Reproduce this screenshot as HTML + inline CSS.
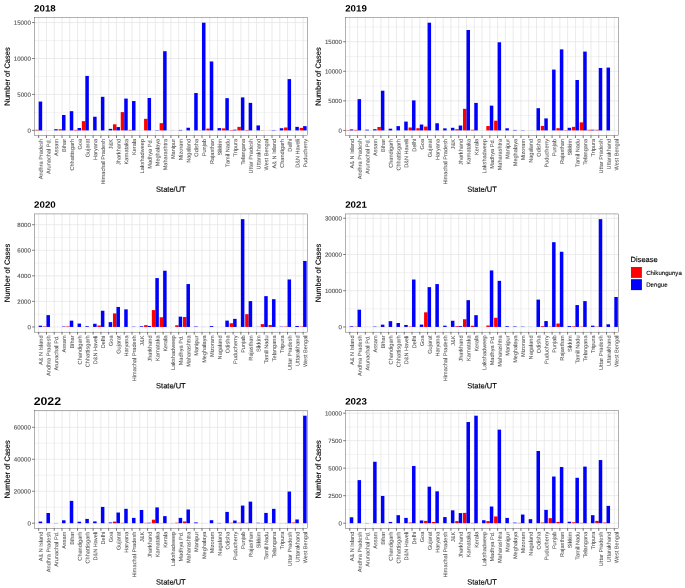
<!DOCTYPE html>
<html lang="en">
<head>
<meta charset="utf-8">
<title>Dengue and Chikungunya cases by State/UT, 2018-2023</title>
<style>
html,body{margin:0;padding:0;background:#ffffff;}
body{width:685px;height:588px;overflow:hidden;}
svg{display:block;will-change:transform;}
svg text{font-family:"Liberation Sans", Arial, Helvetica, sans-serif;stroke-linejoin:round;}
svg text.tk{stroke:#4d4d4d;stroke-width:0.1px;}
svg text.xl{stroke:#4d4d4d;stroke-width:0.03px;}
svg text.ax{stroke:#000;stroke-width:0.15px;}
svg text.lg{stroke:#000;stroke-width:0.1px;}
</style>
</head>
<body>
<svg width="685" height="588" viewBox="0 0 685 588">
<rect x="0" y="0" width="685" height="588" fill="#ffffff"/>
<g>
<rect x="34.40" y="17.50" width="273.00" height="118.10" fill="#ffffff"/>
<line x1="34.40" x2="307.40" y1="112.43" y2="112.43" stroke="#e4e4e4" stroke-width="0.45"/>
<line x1="34.40" x2="307.40" y1="76.48" y2="76.48" stroke="#e4e4e4" stroke-width="0.45"/>
<line x1="34.40" x2="307.40" y1="40.53" y2="40.53" stroke="#e4e4e4" stroke-width="0.45"/>
<line x1="34.40" x2="307.40" y1="130.40" y2="130.40" stroke="#e4e4e4" stroke-width="0.75"/>
<line x1="34.40" x2="307.40" y1="94.45" y2="94.45" stroke="#e4e4e4" stroke-width="0.75"/>
<line x1="34.40" x2="307.40" y1="58.50" y2="58.50" stroke="#e4e4e4" stroke-width="0.75"/>
<line x1="34.40" x2="307.40" y1="22.56" y2="22.56" stroke="#e4e4e4" stroke-width="0.75"/>
<line x1="38.68" x2="38.68" y1="17.50" y2="135.60" stroke="#e4e4e4" stroke-width="0.75"/>
<line x1="46.46" x2="46.46" y1="17.50" y2="135.60" stroke="#e4e4e4" stroke-width="0.75"/>
<line x1="54.23" x2="54.23" y1="17.50" y2="135.60" stroke="#e4e4e4" stroke-width="0.75"/>
<line x1="62.01" x2="62.01" y1="17.50" y2="135.60" stroke="#e4e4e4" stroke-width="0.75"/>
<line x1="69.79" x2="69.79" y1="17.50" y2="135.60" stroke="#e4e4e4" stroke-width="0.75"/>
<line x1="77.57" x2="77.57" y1="17.50" y2="135.60" stroke="#e4e4e4" stroke-width="0.75"/>
<line x1="85.34" x2="85.34" y1="17.50" y2="135.60" stroke="#e4e4e4" stroke-width="0.75"/>
<line x1="93.12" x2="93.12" y1="17.50" y2="135.60" stroke="#e4e4e4" stroke-width="0.75"/>
<line x1="100.90" x2="100.90" y1="17.50" y2="135.60" stroke="#e4e4e4" stroke-width="0.75"/>
<line x1="108.68" x2="108.68" y1="17.50" y2="135.60" stroke="#e4e4e4" stroke-width="0.75"/>
<line x1="116.46" x2="116.46" y1="17.50" y2="135.60" stroke="#e4e4e4" stroke-width="0.75"/>
<line x1="124.23" x2="124.23" y1="17.50" y2="135.60" stroke="#e4e4e4" stroke-width="0.75"/>
<line x1="132.01" x2="132.01" y1="17.50" y2="135.60" stroke="#e4e4e4" stroke-width="0.75"/>
<line x1="139.79" x2="139.79" y1="17.50" y2="135.60" stroke="#e4e4e4" stroke-width="0.75"/>
<line x1="147.57" x2="147.57" y1="17.50" y2="135.60" stroke="#e4e4e4" stroke-width="0.75"/>
<line x1="155.34" x2="155.34" y1="17.50" y2="135.60" stroke="#e4e4e4" stroke-width="0.75"/>
<line x1="163.12" x2="163.12" y1="17.50" y2="135.60" stroke="#e4e4e4" stroke-width="0.75"/>
<line x1="170.90" x2="170.90" y1="17.50" y2="135.60" stroke="#e4e4e4" stroke-width="0.75"/>
<line x1="178.68" x2="178.68" y1="17.50" y2="135.60" stroke="#e4e4e4" stroke-width="0.75"/>
<line x1="186.46" x2="186.46" y1="17.50" y2="135.60" stroke="#e4e4e4" stroke-width="0.75"/>
<line x1="194.23" x2="194.23" y1="17.50" y2="135.60" stroke="#e4e4e4" stroke-width="0.75"/>
<line x1="202.01" x2="202.01" y1="17.50" y2="135.60" stroke="#e4e4e4" stroke-width="0.75"/>
<line x1="209.79" x2="209.79" y1="17.50" y2="135.60" stroke="#e4e4e4" stroke-width="0.75"/>
<line x1="217.57" x2="217.57" y1="17.50" y2="135.60" stroke="#e4e4e4" stroke-width="0.75"/>
<line x1="225.34" x2="225.34" y1="17.50" y2="135.60" stroke="#e4e4e4" stroke-width="0.75"/>
<line x1="233.12" x2="233.12" y1="17.50" y2="135.60" stroke="#e4e4e4" stroke-width="0.75"/>
<line x1="240.90" x2="240.90" y1="17.50" y2="135.60" stroke="#e4e4e4" stroke-width="0.75"/>
<line x1="248.68" x2="248.68" y1="17.50" y2="135.60" stroke="#e4e4e4" stroke-width="0.75"/>
<line x1="256.46" x2="256.46" y1="17.50" y2="135.60" stroke="#e4e4e4" stroke-width="0.75"/>
<line x1="264.23" x2="264.23" y1="17.50" y2="135.60" stroke="#e4e4e4" stroke-width="0.75"/>
<line x1="272.01" x2="272.01" y1="17.50" y2="135.60" stroke="#e4e4e4" stroke-width="0.75"/>
<line x1="279.79" x2="279.79" y1="17.50" y2="135.60" stroke="#e4e4e4" stroke-width="0.75"/>
<line x1="287.57" x2="287.57" y1="17.50" y2="135.60" stroke="#e4e4e4" stroke-width="0.75"/>
<line x1="295.34" x2="295.34" y1="17.50" y2="135.60" stroke="#e4e4e4" stroke-width="0.75"/>
<line x1="303.12" x2="303.12" y1="17.50" y2="135.60" stroke="#e4e4e4" stroke-width="0.75"/>
<rect x="35.18" y="129.83" width="3.50" height="0.57" fill="#ff0000"/>
<rect x="38.68" y="101.56" width="3.50" height="28.84" fill="#0000ff"/>
<rect x="42.96" y="130.40" width="3.50" height="0.00" fill="#ff0000"/>
<rect x="46.46" y="130.39" width="3.50" height="0.01" fill="#0000ff"/>
<rect x="50.73" y="130.40" width="3.50" height="0.00" fill="#ff0000"/>
<rect x="54.23" y="129.21" width="3.50" height="1.19" fill="#0000ff"/>
<rect x="58.51" y="129.28" width="3.50" height="1.12" fill="#ff0000"/>
<rect x="62.01" y="115.00" width="3.50" height="15.40" fill="#0000ff"/>
<rect x="66.29" y="130.40" width="3.50" height="0.00" fill="#ff0000"/>
<rect x="69.79" y="111.18" width="3.50" height="19.22" fill="#0000ff"/>
<rect x="74.07" y="129.85" width="3.50" height="0.55" fill="#ff0000"/>
<rect x="77.57" y="127.99" width="3.50" height="2.41" fill="#0000ff"/>
<rect x="81.84" y="121.13" width="3.50" height="9.27" fill="#ff0000"/>
<rect x="85.34" y="75.91" width="3.50" height="54.49" fill="#0000ff"/>
<rect x="89.62" y="130.39" width="3.50" height="0.01" fill="#ff0000"/>
<rect x="93.12" y="116.75" width="3.50" height="13.65" fill="#0000ff"/>
<rect x="97.40" y="130.40" width="3.50" height="0.00" fill="#ff0000"/>
<rect x="100.90" y="96.81" width="3.50" height="33.59" fill="#0000ff"/>
<rect x="105.18" y="130.40" width="3.50" height="0.00" fill="#ff0000"/>
<rect x="108.68" y="128.86" width="3.50" height="1.54" fill="#0000ff"/>
<rect x="112.96" y="124.28" width="3.50" height="6.12" fill="#ff0000"/>
<rect x="116.46" y="127.07" width="3.50" height="3.33" fill="#0000ff"/>
<rect x="120.73" y="112.10" width="3.50" height="18.30" fill="#ff0000"/>
<rect x="124.23" y="98.57" width="3.50" height="31.83" fill="#0000ff"/>
<rect x="128.51" y="129.85" width="3.50" height="0.55" fill="#ff0000"/>
<rect x="132.01" y="101.04" width="3.50" height="29.36" fill="#0000ff"/>
<rect x="136.29" y="130.40" width="3.50" height="0.00" fill="#ff0000"/>
<rect x="139.79" y="130.40" width="3.50" height="0.00" fill="#0000ff"/>
<rect x="144.07" y="118.83" width="3.50" height="11.57" fill="#ff0000"/>
<rect x="147.57" y="98.00" width="3.50" height="32.40" fill="#0000ff"/>
<rect x="151.84" y="130.40" width="3.50" height="0.00" fill="#ff0000"/>
<rect x="155.34" y="130.08" width="3.50" height="0.32" fill="#0000ff"/>
<rect x="159.62" y="123.15" width="3.50" height="7.25" fill="#ff0000"/>
<rect x="163.12" y="51.24" width="3.50" height="79.16" fill="#0000ff"/>
<rect x="167.40" y="130.40" width="3.50" height="0.00" fill="#ff0000"/>
<rect x="170.90" y="130.30" width="3.50" height="0.10" fill="#0000ff"/>
<rect x="175.18" y="130.40" width="3.50" height="0.00" fill="#ff0000"/>
<rect x="178.68" y="129.91" width="3.50" height="0.49" fill="#0000ff"/>
<rect x="182.96" y="130.40" width="3.50" height="0.00" fill="#ff0000"/>
<rect x="186.46" y="127.75" width="3.50" height="2.65" fill="#0000ff"/>
<rect x="190.73" y="130.40" width="3.50" height="0.00" fill="#ff0000"/>
<rect x="194.23" y="93.03" width="3.50" height="37.37" fill="#0000ff"/>
<rect x="198.51" y="130.28" width="3.50" height="0.12" fill="#ff0000"/>
<rect x="202.01" y="22.70" width="3.50" height="107.70" fill="#0000ff"/>
<rect x="206.29" y="128.57" width="3.50" height="1.83" fill="#ff0000"/>
<rect x="209.79" y="61.47" width="3.50" height="68.93" fill="#0000ff"/>
<rect x="214.07" y="130.40" width="3.50" height="0.00" fill="#ff0000"/>
<rect x="217.57" y="128.10" width="3.50" height="2.30" fill="#0000ff"/>
<rect x="221.84" y="128.36" width="3.50" height="2.04" fill="#ff0000"/>
<rect x="225.34" y="98.15" width="3.50" height="32.25" fill="#0000ff"/>
<rect x="229.62" y="129.99" width="3.50" height="0.41" fill="#ff0000"/>
<rect x="233.12" y="129.68" width="3.50" height="0.72" fill="#0000ff"/>
<rect x="237.40" y="126.88" width="3.50" height="3.52" fill="#ff0000"/>
<rect x="240.90" y="97.39" width="3.50" height="33.01" fill="#0000ff"/>
<rect x="245.18" y="129.98" width="3.50" height="0.42" fill="#ff0000"/>
<rect x="248.68" y="102.87" width="3.50" height="27.53" fill="#0000ff"/>
<rect x="252.96" y="130.40" width="3.50" height="0.00" fill="#ff0000"/>
<rect x="256.46" y="125.45" width="3.50" height="4.95" fill="#0000ff"/>
<rect x="260.73" y="130.23" width="3.50" height="0.17" fill="#ff0000"/>
<rect x="264.23" y="130.40" width="3.50" height="0.00" fill="#0000ff"/>
<rect x="268.51" y="130.28" width="3.50" height="0.12" fill="#ff0000"/>
<rect x="272.01" y="130.05" width="3.50" height="0.35" fill="#0000ff"/>
<rect x="276.29" y="130.40" width="3.50" height="0.00" fill="#ff0000"/>
<rect x="279.79" y="128.24" width="3.50" height="2.16" fill="#0000ff"/>
<rect x="284.07" y="127.47" width="3.50" height="2.93" fill="#ff0000"/>
<rect x="287.57" y="79.10" width="3.50" height="51.30" fill="#0000ff"/>
<rect x="291.84" y="130.40" width="3.50" height="0.00" fill="#ff0000"/>
<rect x="295.34" y="126.86" width="3.50" height="3.54" fill="#0000ff"/>
<rect x="299.62" y="127.88" width="3.50" height="2.52" fill="#ff0000"/>
<rect x="303.12" y="126.14" width="3.50" height="4.26" fill="#0000ff"/>
<rect x="34.40" y="17.50" width="273.00" height="118.10" fill="none" stroke="#333333" stroke-width="0.38"/>
<line x1="32.10" x2="34.40" y1="130.40" y2="130.40" stroke="#333333" stroke-width="0.65"/>
<text transform="translate(30.80,132.65) rotate(0.05)" font-size="6.1" fill="#4d4d4d" text-anchor="end" class="tk">0</text>
<line x1="32.10" x2="34.40" y1="94.45" y2="94.45" stroke="#333333" stroke-width="0.65"/>
<text transform="translate(30.80,96.70) rotate(0.05)" font-size="6.1" fill="#4d4d4d" text-anchor="end" class="tk">5000</text>
<line x1="32.10" x2="34.40" y1="58.50" y2="58.50" stroke="#333333" stroke-width="0.65"/>
<text transform="translate(30.80,60.75) rotate(0.05)" font-size="6.1" fill="#4d4d4d" text-anchor="end" class="tk">10000</text>
<line x1="32.10" x2="34.40" y1="22.56" y2="22.56" stroke="#333333" stroke-width="0.65"/>
<text transform="translate(30.80,24.81) rotate(0.05)" font-size="6.1" fill="#4d4d4d" text-anchor="end" class="tk">15000</text>
<line x1="38.68" x2="38.68" y1="135.60" y2="138.00" stroke="#333333" stroke-width="0.7"/>
<text transform="translate(42.78,138.90) rotate(-90.05)" font-size="5.6" fill="#4d4d4d" text-anchor="end" class="xl">Andhra Pradesh</text>
<line x1="46.46" x2="46.46" y1="135.60" y2="138.00" stroke="#333333" stroke-width="0.7"/>
<text transform="translate(50.56,138.90) rotate(-90.05)" font-size="5.6" fill="#4d4d4d" text-anchor="end" class="xl">Arunachal Pd.</text>
<line x1="54.23" x2="54.23" y1="135.60" y2="138.00" stroke="#333333" stroke-width="0.7"/>
<text transform="translate(58.33,138.90) rotate(-90.05)" font-size="5.6" fill="#4d4d4d" text-anchor="end" class="xl">Assam</text>
<line x1="62.01" x2="62.01" y1="135.60" y2="138.00" stroke="#333333" stroke-width="0.7"/>
<text transform="translate(66.11,138.90) rotate(-90.05)" font-size="5.6" fill="#4d4d4d" text-anchor="end" class="xl">Bihar</text>
<line x1="69.79" x2="69.79" y1="135.60" y2="138.00" stroke="#333333" stroke-width="0.7"/>
<text transform="translate(73.89,138.90) rotate(-90.05)" font-size="5.6" fill="#4d4d4d" text-anchor="end" class="xl">Chhattisgarh</text>
<line x1="77.57" x2="77.57" y1="135.60" y2="138.00" stroke="#333333" stroke-width="0.7"/>
<text transform="translate(81.67,138.90) rotate(-90.05)" font-size="5.6" fill="#4d4d4d" text-anchor="end" class="xl">Goa</text>
<line x1="85.34" x2="85.34" y1="135.60" y2="138.00" stroke="#333333" stroke-width="0.7"/>
<text transform="translate(89.44,138.90) rotate(-90.05)" font-size="5.6" fill="#4d4d4d" text-anchor="end" class="xl">Gujarat</text>
<line x1="93.12" x2="93.12" y1="135.60" y2="138.00" stroke="#333333" stroke-width="0.7"/>
<text transform="translate(97.22,138.90) rotate(-90.05)" font-size="5.6" fill="#4d4d4d" text-anchor="end" class="xl">Haryana</text>
<line x1="100.90" x2="100.90" y1="135.60" y2="138.00" stroke="#333333" stroke-width="0.7"/>
<text transform="translate(105.00,138.90) rotate(-90.05)" font-size="5.6" fill="#4d4d4d" text-anchor="end" class="xl">Himachal Pradesh</text>
<line x1="108.68" x2="108.68" y1="135.60" y2="138.00" stroke="#333333" stroke-width="0.7"/>
<text transform="translate(112.78,138.90) rotate(-90.05)" font-size="5.6" fill="#4d4d4d" text-anchor="end" class="xl">J&amp;K</text>
<line x1="116.46" x2="116.46" y1="135.60" y2="138.00" stroke="#333333" stroke-width="0.7"/>
<text transform="translate(120.56,138.90) rotate(-90.05)" font-size="5.6" fill="#4d4d4d" text-anchor="end" class="xl">Jharkhand</text>
<line x1="124.23" x2="124.23" y1="135.60" y2="138.00" stroke="#333333" stroke-width="0.7"/>
<text transform="translate(128.33,138.90) rotate(-90.05)" font-size="5.6" fill="#4d4d4d" text-anchor="end" class="xl">Karnataka</text>
<line x1="132.01" x2="132.01" y1="135.60" y2="138.00" stroke="#333333" stroke-width="0.7"/>
<text transform="translate(136.11,138.90) rotate(-90.05)" font-size="5.6" fill="#4d4d4d" text-anchor="end" class="xl">Kerala</text>
<line x1="139.79" x2="139.79" y1="135.60" y2="138.00" stroke="#333333" stroke-width="0.7"/>
<text transform="translate(143.89,138.90) rotate(-90.05)" font-size="5.6" fill="#4d4d4d" text-anchor="end" class="xl">Lakshadweep</text>
<line x1="147.57" x2="147.57" y1="135.60" y2="138.00" stroke="#333333" stroke-width="0.7"/>
<text transform="translate(151.67,138.90) rotate(-90.05)" font-size="5.6" fill="#4d4d4d" text-anchor="end" class="xl">Madhya Pd.</text>
<line x1="155.34" x2="155.34" y1="135.60" y2="138.00" stroke="#333333" stroke-width="0.7"/>
<text transform="translate(159.44,138.90) rotate(-90.05)" font-size="5.6" fill="#4d4d4d" text-anchor="end" class="xl">Meghalaya</text>
<line x1="163.12" x2="163.12" y1="135.60" y2="138.00" stroke="#333333" stroke-width="0.7"/>
<text transform="translate(167.22,138.90) rotate(-90.05)" font-size="5.6" fill="#4d4d4d" text-anchor="end" class="xl">Maharashtra</text>
<line x1="170.90" x2="170.90" y1="135.60" y2="138.00" stroke="#333333" stroke-width="0.7"/>
<text transform="translate(175.00,138.90) rotate(-90.05)" font-size="5.6" fill="#4d4d4d" text-anchor="end" class="xl">Manipur</text>
<line x1="178.68" x2="178.68" y1="135.60" y2="138.00" stroke="#333333" stroke-width="0.7"/>
<text transform="translate(182.78,138.90) rotate(-90.05)" font-size="5.6" fill="#4d4d4d" text-anchor="end" class="xl">Mizoram</text>
<line x1="186.46" x2="186.46" y1="135.60" y2="138.00" stroke="#333333" stroke-width="0.7"/>
<text transform="translate(190.56,138.90) rotate(-90.05)" font-size="5.6" fill="#4d4d4d" text-anchor="end" class="xl">Nagaland</text>
<line x1="194.23" x2="194.23" y1="135.60" y2="138.00" stroke="#333333" stroke-width="0.7"/>
<text transform="translate(198.33,138.90) rotate(-90.05)" font-size="5.6" fill="#4d4d4d" text-anchor="end" class="xl">Odisha</text>
<line x1="202.01" x2="202.01" y1="135.60" y2="138.00" stroke="#333333" stroke-width="0.7"/>
<text transform="translate(206.11,138.90) rotate(-90.05)" font-size="5.6" fill="#4d4d4d" text-anchor="end" class="xl">Punjab</text>
<line x1="209.79" x2="209.79" y1="135.60" y2="138.00" stroke="#333333" stroke-width="0.7"/>
<text transform="translate(213.89,138.90) rotate(-90.05)" font-size="5.6" fill="#4d4d4d" text-anchor="end" class="xl">Rajasthan</text>
<line x1="217.57" x2="217.57" y1="135.60" y2="138.00" stroke="#333333" stroke-width="0.7"/>
<text transform="translate(221.67,138.90) rotate(-90.05)" font-size="5.6" fill="#4d4d4d" text-anchor="end" class="xl">Sikkim</text>
<line x1="225.34" x2="225.34" y1="135.60" y2="138.00" stroke="#333333" stroke-width="0.7"/>
<text transform="translate(229.44,138.90) rotate(-90.05)" font-size="5.6" fill="#4d4d4d" text-anchor="end" class="xl">Tamil Nadu</text>
<line x1="233.12" x2="233.12" y1="135.60" y2="138.00" stroke="#333333" stroke-width="0.7"/>
<text transform="translate(237.22,138.90) rotate(-90.05)" font-size="5.6" fill="#4d4d4d" text-anchor="end" class="xl">Tripura</text>
<line x1="240.90" x2="240.90" y1="135.60" y2="138.00" stroke="#333333" stroke-width="0.7"/>
<text transform="translate(245.00,138.90) rotate(-90.05)" font-size="5.6" fill="#4d4d4d" text-anchor="end" class="xl">Telangana</text>
<line x1="248.68" x2="248.68" y1="135.60" y2="138.00" stroke="#333333" stroke-width="0.7"/>
<text transform="translate(252.78,138.90) rotate(-90.05)" font-size="5.6" fill="#4d4d4d" text-anchor="end" class="xl">Uttar Pradesh</text>
<line x1="256.46" x2="256.46" y1="135.60" y2="138.00" stroke="#333333" stroke-width="0.7"/>
<text transform="translate(260.56,138.90) rotate(-90.05)" font-size="5.6" fill="#4d4d4d" text-anchor="end" class="xl">Uttarakhand</text>
<line x1="264.23" x2="264.23" y1="135.60" y2="138.00" stroke="#333333" stroke-width="0.7"/>
<text transform="translate(268.33,138.90) rotate(-90.05)" font-size="5.6" fill="#4d4d4d" text-anchor="end" class="xl">West Bengal</text>
<line x1="272.01" x2="272.01" y1="135.60" y2="138.00" stroke="#333333" stroke-width="0.7"/>
<text transform="translate(276.11,138.90) rotate(-90.05)" font-size="5.6" fill="#4d4d4d" text-anchor="end" class="xl">A&amp; N Island</text>
<line x1="279.79" x2="279.79" y1="135.60" y2="138.00" stroke="#333333" stroke-width="0.7"/>
<text transform="translate(283.89,138.90) rotate(-90.05)" font-size="5.6" fill="#4d4d4d" text-anchor="end" class="xl">Chandigarh</text>
<line x1="287.57" x2="287.57" y1="135.60" y2="138.00" stroke="#333333" stroke-width="0.7"/>
<text transform="translate(291.67,138.90) rotate(-90.05)" font-size="5.6" fill="#4d4d4d" text-anchor="end" class="xl">Delhi</text>
<line x1="295.34" x2="295.34" y1="135.60" y2="138.00" stroke="#333333" stroke-width="0.7"/>
<text transform="translate(299.44,138.90) rotate(-90.05)" font-size="5.6" fill="#4d4d4d" text-anchor="end" class="xl">D&amp;N Haveli</text>
<line x1="303.12" x2="303.12" y1="135.60" y2="138.00" stroke="#333333" stroke-width="0.7"/>
<text transform="translate(307.22,138.90) rotate(-90.05)" font-size="5.6" fill="#4d4d4d" text-anchor="end" class="xl">Puducherry</text>
<text transform="translate(34.10,11.40) rotate(0.05) scale(1.06,1)" font-size="9.2" fill="#000" font-weight="bold">2018</text>
<text transform="translate(170.90,191.80) rotate(0.05)" font-size="7.5" fill="#000" text-anchor="middle" class="ax">State/UT</text>
<text transform="translate(9.70,76.55) rotate(-90.05)" font-size="7.5" fill="#000" text-anchor="middle" class="ax">Number of Cases</text>
</g>
<g>
<rect x="345.50" y="17.50" width="273.10" height="118.10" fill="#ffffff"/>
<line x1="345.50" x2="618.60" y1="115.62" y2="115.62" stroke="#e4e4e4" stroke-width="0.45"/>
<line x1="345.50" x2="618.60" y1="86.06" y2="86.06" stroke="#e4e4e4" stroke-width="0.45"/>
<line x1="345.50" x2="618.60" y1="56.51" y2="56.51" stroke="#e4e4e4" stroke-width="0.45"/>
<line x1="345.50" x2="618.60" y1="26.95" y2="26.95" stroke="#e4e4e4" stroke-width="0.45"/>
<line x1="345.50" x2="618.60" y1="130.40" y2="130.40" stroke="#e4e4e4" stroke-width="0.75"/>
<line x1="345.50" x2="618.60" y1="100.84" y2="100.84" stroke="#e4e4e4" stroke-width="0.75"/>
<line x1="345.50" x2="618.60" y1="71.29" y2="71.29" stroke="#e4e4e4" stroke-width="0.75"/>
<line x1="345.50" x2="618.60" y1="41.73" y2="41.73" stroke="#e4e4e4" stroke-width="0.75"/>
<line x1="349.78" x2="349.78" y1="17.50" y2="135.60" stroke="#e4e4e4" stroke-width="0.75"/>
<line x1="357.56" x2="357.56" y1="17.50" y2="135.60" stroke="#e4e4e4" stroke-width="0.75"/>
<line x1="365.34" x2="365.34" y1="17.50" y2="135.60" stroke="#e4e4e4" stroke-width="0.75"/>
<line x1="373.12" x2="373.12" y1="17.50" y2="135.60" stroke="#e4e4e4" stroke-width="0.75"/>
<line x1="380.90" x2="380.90" y1="17.50" y2="135.60" stroke="#e4e4e4" stroke-width="0.75"/>
<line x1="388.68" x2="388.68" y1="17.50" y2="135.60" stroke="#e4e4e4" stroke-width="0.75"/>
<line x1="396.46" x2="396.46" y1="17.50" y2="135.60" stroke="#e4e4e4" stroke-width="0.75"/>
<line x1="404.24" x2="404.24" y1="17.50" y2="135.60" stroke="#e4e4e4" stroke-width="0.75"/>
<line x1="412.02" x2="412.02" y1="17.50" y2="135.60" stroke="#e4e4e4" stroke-width="0.75"/>
<line x1="419.80" x2="419.80" y1="17.50" y2="135.60" stroke="#e4e4e4" stroke-width="0.75"/>
<line x1="427.59" x2="427.59" y1="17.50" y2="135.60" stroke="#e4e4e4" stroke-width="0.75"/>
<line x1="435.37" x2="435.37" y1="17.50" y2="135.60" stroke="#e4e4e4" stroke-width="0.75"/>
<line x1="443.15" x2="443.15" y1="17.50" y2="135.60" stroke="#e4e4e4" stroke-width="0.75"/>
<line x1="450.93" x2="450.93" y1="17.50" y2="135.60" stroke="#e4e4e4" stroke-width="0.75"/>
<line x1="458.71" x2="458.71" y1="17.50" y2="135.60" stroke="#e4e4e4" stroke-width="0.75"/>
<line x1="466.49" x2="466.49" y1="17.50" y2="135.60" stroke="#e4e4e4" stroke-width="0.75"/>
<line x1="474.27" x2="474.27" y1="17.50" y2="135.60" stroke="#e4e4e4" stroke-width="0.75"/>
<line x1="482.05" x2="482.05" y1="17.50" y2="135.60" stroke="#e4e4e4" stroke-width="0.75"/>
<line x1="489.83" x2="489.83" y1="17.50" y2="135.60" stroke="#e4e4e4" stroke-width="0.75"/>
<line x1="497.61" x2="497.61" y1="17.50" y2="135.60" stroke="#e4e4e4" stroke-width="0.75"/>
<line x1="505.39" x2="505.39" y1="17.50" y2="135.60" stroke="#e4e4e4" stroke-width="0.75"/>
<line x1="513.17" x2="513.17" y1="17.50" y2="135.60" stroke="#e4e4e4" stroke-width="0.75"/>
<line x1="520.95" x2="520.95" y1="17.50" y2="135.60" stroke="#e4e4e4" stroke-width="0.75"/>
<line x1="528.73" x2="528.73" y1="17.50" y2="135.60" stroke="#e4e4e4" stroke-width="0.75"/>
<line x1="536.51" x2="536.51" y1="17.50" y2="135.60" stroke="#e4e4e4" stroke-width="0.75"/>
<line x1="544.30" x2="544.30" y1="17.50" y2="135.60" stroke="#e4e4e4" stroke-width="0.75"/>
<line x1="552.08" x2="552.08" y1="17.50" y2="135.60" stroke="#e4e4e4" stroke-width="0.75"/>
<line x1="559.86" x2="559.86" y1="17.50" y2="135.60" stroke="#e4e4e4" stroke-width="0.75"/>
<line x1="567.64" x2="567.64" y1="17.50" y2="135.60" stroke="#e4e4e4" stroke-width="0.75"/>
<line x1="575.42" x2="575.42" y1="17.50" y2="135.60" stroke="#e4e4e4" stroke-width="0.75"/>
<line x1="583.20" x2="583.20" y1="17.50" y2="135.60" stroke="#e4e4e4" stroke-width="0.75"/>
<line x1="590.98" x2="590.98" y1="17.50" y2="135.60" stroke="#e4e4e4" stroke-width="0.75"/>
<line x1="598.76" x2="598.76" y1="17.50" y2="135.60" stroke="#e4e4e4" stroke-width="0.75"/>
<line x1="606.54" x2="606.54" y1="17.50" y2="135.60" stroke="#e4e4e4" stroke-width="0.75"/>
<line x1="614.32" x2="614.32" y1="17.50" y2="135.60" stroke="#e4e4e4" stroke-width="0.75"/>
<rect x="346.28" y="130.05" width="3.50" height="0.35" fill="#ff0000"/>
<rect x="349.78" y="129.41" width="3.50" height="0.99" fill="#0000ff"/>
<rect x="354.06" y="129.87" width="3.50" height="0.53" fill="#ff0000"/>
<rect x="357.56" y="99.15" width="3.50" height="31.25" fill="#0000ff"/>
<rect x="361.84" y="130.40" width="3.50" height="0.00" fill="#ff0000"/>
<rect x="365.34" y="129.67" width="3.50" height="0.73" fill="#0000ff"/>
<rect x="369.62" y="130.40" width="3.50" height="0.00" fill="#ff0000"/>
<rect x="373.12" y="129.24" width="3.50" height="1.16" fill="#0000ff"/>
<rect x="377.40" y="126.97" width="3.50" height="3.43" fill="#ff0000"/>
<rect x="380.90" y="90.72" width="3.50" height="39.68" fill="#0000ff"/>
<rect x="385.18" y="130.40" width="3.50" height="0.00" fill="#ff0000"/>
<rect x="388.68" y="128.71" width="3.50" height="1.69" fill="#0000ff"/>
<rect x="392.96" y="130.40" width="3.50" height="0.00" fill="#ff0000"/>
<rect x="396.46" y="126.13" width="3.50" height="4.27" fill="#0000ff"/>
<rect x="400.74" y="130.40" width="3.50" height="0.00" fill="#ff0000"/>
<rect x="404.24" y="121.59" width="3.50" height="8.81" fill="#0000ff"/>
<rect x="408.52" y="127.50" width="3.50" height="2.90" fill="#ff0000"/>
<rect x="412.02" y="100.39" width="3.50" height="30.01" fill="#0000ff"/>
<rect x="416.30" y="128.21" width="3.50" height="2.19" fill="#ff0000"/>
<rect x="419.80" y="124.54" width="3.50" height="5.86" fill="#0000ff"/>
<rect x="424.08" y="126.56" width="3.50" height="3.84" fill="#ff0000"/>
<rect x="427.59" y="22.70" width="3.50" height="107.70" fill="#0000ff"/>
<rect x="431.86" y="130.40" width="3.50" height="0.00" fill="#ff0000"/>
<rect x="435.37" y="123.26" width="3.50" height="7.14" fill="#0000ff"/>
<rect x="439.65" y="130.40" width="3.50" height="0.00" fill="#ff0000"/>
<rect x="443.15" y="128.37" width="3.50" height="2.03" fill="#0000ff"/>
<rect x="447.43" y="130.40" width="3.50" height="0.00" fill="#ff0000"/>
<rect x="450.93" y="127.80" width="3.50" height="2.60" fill="#0000ff"/>
<rect x="455.21" y="129.22" width="3.50" height="1.18" fill="#ff0000"/>
<rect x="458.71" y="125.52" width="3.50" height="4.88" fill="#0000ff"/>
<rect x="462.99" y="108.82" width="3.50" height="21.58" fill="#ff0000"/>
<rect x="466.49" y="29.99" width="3.50" height="100.41" fill="#0000ff"/>
<rect x="470.77" y="129.75" width="3.50" height="0.65" fill="#ff0000"/>
<rect x="474.27" y="102.90" width="3.50" height="27.50" fill="#0000ff"/>
<rect x="478.55" y="130.40" width="3.50" height="0.00" fill="#ff0000"/>
<rect x="482.05" y="130.40" width="3.50" height="0.00" fill="#0000ff"/>
<rect x="486.33" y="126.03" width="3.50" height="4.37" fill="#ff0000"/>
<rect x="489.83" y="105.64" width="3.50" height="24.76" fill="#0000ff"/>
<rect x="494.11" y="120.67" width="3.50" height="9.73" fill="#ff0000"/>
<rect x="497.61" y="42.28" width="3.50" height="88.12" fill="#0000ff"/>
<rect x="501.89" y="130.40" width="3.50" height="0.00" fill="#ff0000"/>
<rect x="505.39" y="128.28" width="3.50" height="2.12" fill="#0000ff"/>
<rect x="509.67" y="130.40" width="3.50" height="0.00" fill="#ff0000"/>
<rect x="513.17" y="129.92" width="3.50" height="0.48" fill="#0000ff"/>
<rect x="517.45" y="130.40" width="3.50" height="0.00" fill="#ff0000"/>
<rect x="520.95" y="130.15" width="3.50" height="0.25" fill="#0000ff"/>
<rect x="525.23" y="130.40" width="3.50" height="0.00" fill="#ff0000"/>
<rect x="528.73" y="130.35" width="3.50" height="0.05" fill="#0000ff"/>
<rect x="533.01" y="130.40" width="3.50" height="0.00" fill="#ff0000"/>
<rect x="536.51" y="108.18" width="3.50" height="22.22" fill="#0000ff"/>
<rect x="540.79" y="125.91" width="3.50" height="4.49" fill="#ff0000"/>
<rect x="544.30" y="118.40" width="3.50" height="12.00" fill="#0000ff"/>
<rect x="548.57" y="130.40" width="3.50" height="0.00" fill="#ff0000"/>
<rect x="552.08" y="69.58" width="3.50" height="60.82" fill="#0000ff"/>
<rect x="556.35" y="128.21" width="3.50" height="2.19" fill="#ff0000"/>
<rect x="559.86" y="49.38" width="3.50" height="81.02" fill="#0000ff"/>
<rect x="564.14" y="130.10" width="3.50" height="0.30" fill="#ff0000"/>
<rect x="567.64" y="127.78" width="3.50" height="2.62" fill="#0000ff"/>
<rect x="571.92" y="126.85" width="3.50" height="3.55" fill="#ff0000"/>
<rect x="575.42" y="79.99" width="3.50" height="50.41" fill="#0000ff"/>
<rect x="579.70" y="122.37" width="3.50" height="8.03" fill="#ff0000"/>
<rect x="583.20" y="51.59" width="3.50" height="78.81" fill="#0000ff"/>
<rect x="587.48" y="129.81" width="3.50" height="0.59" fill="#ff0000"/>
<rect x="590.98" y="129.73" width="3.50" height="0.67" fill="#0000ff"/>
<rect x="595.26" y="129.81" width="3.50" height="0.59" fill="#ff0000"/>
<rect x="598.76" y="67.99" width="3.50" height="62.41" fill="#0000ff"/>
<rect x="603.04" y="130.40" width="3.50" height="0.00" fill="#ff0000"/>
<rect x="606.54" y="67.61" width="3.50" height="62.79" fill="#0000ff"/>
<rect x="610.82" y="130.40" width="3.50" height="0.00" fill="#ff0000"/>
<rect x="614.32" y="130.40" width="3.50" height="0.00" fill="#0000ff"/>
<rect x="345.50" y="17.50" width="273.10" height="118.10" fill="none" stroke="#333333" stroke-width="0.38"/>
<line x1="343.20" x2="345.50" y1="130.40" y2="130.40" stroke="#333333" stroke-width="0.65"/>
<text transform="translate(341.90,132.65) rotate(0.05)" font-size="6.1" fill="#4d4d4d" text-anchor="end" class="tk">0</text>
<line x1="343.20" x2="345.50" y1="100.84" y2="100.84" stroke="#333333" stroke-width="0.65"/>
<text transform="translate(341.90,103.09) rotate(0.05)" font-size="6.1" fill="#4d4d4d" text-anchor="end" class="tk">5000</text>
<line x1="343.20" x2="345.50" y1="71.29" y2="71.29" stroke="#333333" stroke-width="0.65"/>
<text transform="translate(341.90,73.54) rotate(0.05)" font-size="6.1" fill="#4d4d4d" text-anchor="end" class="tk">10000</text>
<line x1="343.20" x2="345.50" y1="41.73" y2="41.73" stroke="#333333" stroke-width="0.65"/>
<text transform="translate(341.90,43.98) rotate(0.05)" font-size="6.1" fill="#4d4d4d" text-anchor="end" class="tk">15000</text>
<line x1="349.78" x2="349.78" y1="135.60" y2="138.00" stroke="#333333" stroke-width="0.7"/>
<text transform="translate(353.88,138.90) rotate(-90.05)" font-size="5.6" fill="#4d4d4d" text-anchor="end" class="xl">A&amp; N Island</text>
<line x1="357.56" x2="357.56" y1="135.60" y2="138.00" stroke="#333333" stroke-width="0.7"/>
<text transform="translate(361.66,138.90) rotate(-90.05)" font-size="5.6" fill="#4d4d4d" text-anchor="end" class="xl">Andhra Pradesh</text>
<line x1="365.34" x2="365.34" y1="135.60" y2="138.00" stroke="#333333" stroke-width="0.7"/>
<text transform="translate(369.44,138.90) rotate(-90.05)" font-size="5.6" fill="#4d4d4d" text-anchor="end" class="xl">Arunachal Pd.</text>
<line x1="373.12" x2="373.12" y1="135.60" y2="138.00" stroke="#333333" stroke-width="0.7"/>
<text transform="translate(377.22,138.90) rotate(-90.05)" font-size="5.6" fill="#4d4d4d" text-anchor="end" class="xl">Assam</text>
<line x1="380.90" x2="380.90" y1="135.60" y2="138.00" stroke="#333333" stroke-width="0.7"/>
<text transform="translate(385.00,138.90) rotate(-90.05)" font-size="5.6" fill="#4d4d4d" text-anchor="end" class="xl">Bihar</text>
<line x1="388.68" x2="388.68" y1="135.60" y2="138.00" stroke="#333333" stroke-width="0.7"/>
<text transform="translate(392.78,138.90) rotate(-90.05)" font-size="5.6" fill="#4d4d4d" text-anchor="end" class="xl">Chandigarh</text>
<line x1="396.46" x2="396.46" y1="135.60" y2="138.00" stroke="#333333" stroke-width="0.7"/>
<text transform="translate(400.56,138.90) rotate(-90.05)" font-size="5.6" fill="#4d4d4d" text-anchor="end" class="xl">Chhattisgarh</text>
<line x1="404.24" x2="404.24" y1="135.60" y2="138.00" stroke="#333333" stroke-width="0.7"/>
<text transform="translate(408.34,138.90) rotate(-90.05)" font-size="5.6" fill="#4d4d4d" text-anchor="end" class="xl">D&amp;N Haveli</text>
<line x1="412.02" x2="412.02" y1="135.60" y2="138.00" stroke="#333333" stroke-width="0.7"/>
<text transform="translate(416.12,138.90) rotate(-90.05)" font-size="5.6" fill="#4d4d4d" text-anchor="end" class="xl">Delhi</text>
<line x1="419.80" x2="419.80" y1="135.60" y2="138.00" stroke="#333333" stroke-width="0.7"/>
<text transform="translate(423.90,138.90) rotate(-90.05)" font-size="5.6" fill="#4d4d4d" text-anchor="end" class="xl">Goa</text>
<line x1="427.59" x2="427.59" y1="135.60" y2="138.00" stroke="#333333" stroke-width="0.7"/>
<text transform="translate(431.69,138.90) rotate(-90.05)" font-size="5.6" fill="#4d4d4d" text-anchor="end" class="xl">Gujarat</text>
<line x1="435.37" x2="435.37" y1="135.60" y2="138.00" stroke="#333333" stroke-width="0.7"/>
<text transform="translate(439.47,138.90) rotate(-90.05)" font-size="5.6" fill="#4d4d4d" text-anchor="end" class="xl">Haryana</text>
<line x1="443.15" x2="443.15" y1="135.60" y2="138.00" stroke="#333333" stroke-width="0.7"/>
<text transform="translate(447.25,138.90) rotate(-90.05)" font-size="5.6" fill="#4d4d4d" text-anchor="end" class="xl">Himachal Pradesh</text>
<line x1="450.93" x2="450.93" y1="135.60" y2="138.00" stroke="#333333" stroke-width="0.7"/>
<text transform="translate(455.03,138.90) rotate(-90.05)" font-size="5.6" fill="#4d4d4d" text-anchor="end" class="xl">J&amp;K</text>
<line x1="458.71" x2="458.71" y1="135.60" y2="138.00" stroke="#333333" stroke-width="0.7"/>
<text transform="translate(462.81,138.90) rotate(-90.05)" font-size="5.6" fill="#4d4d4d" text-anchor="end" class="xl">Jharkhand</text>
<line x1="466.49" x2="466.49" y1="135.60" y2="138.00" stroke="#333333" stroke-width="0.7"/>
<text transform="translate(470.59,138.90) rotate(-90.05)" font-size="5.6" fill="#4d4d4d" text-anchor="end" class="xl">Karnataka</text>
<line x1="474.27" x2="474.27" y1="135.60" y2="138.00" stroke="#333333" stroke-width="0.7"/>
<text transform="translate(478.37,138.90) rotate(-90.05)" font-size="5.6" fill="#4d4d4d" text-anchor="end" class="xl">Kerala</text>
<line x1="482.05" x2="482.05" y1="135.60" y2="138.00" stroke="#333333" stroke-width="0.7"/>
<text transform="translate(486.15,138.90) rotate(-90.05)" font-size="5.6" fill="#4d4d4d" text-anchor="end" class="xl">Lakshadweep</text>
<line x1="489.83" x2="489.83" y1="135.60" y2="138.00" stroke="#333333" stroke-width="0.7"/>
<text transform="translate(493.93,138.90) rotate(-90.05)" font-size="5.6" fill="#4d4d4d" text-anchor="end" class="xl">Madhya Pd.</text>
<line x1="497.61" x2="497.61" y1="135.60" y2="138.00" stroke="#333333" stroke-width="0.7"/>
<text transform="translate(501.71,138.90) rotate(-90.05)" font-size="5.6" fill="#4d4d4d" text-anchor="end" class="xl">Maharashtra</text>
<line x1="505.39" x2="505.39" y1="135.60" y2="138.00" stroke="#333333" stroke-width="0.7"/>
<text transform="translate(509.49,138.90) rotate(-90.05)" font-size="5.6" fill="#4d4d4d" text-anchor="end" class="xl">Manipur</text>
<line x1="513.17" x2="513.17" y1="135.60" y2="138.00" stroke="#333333" stroke-width="0.7"/>
<text transform="translate(517.27,138.90) rotate(-90.05)" font-size="5.6" fill="#4d4d4d" text-anchor="end" class="xl">Meghalaya</text>
<line x1="520.95" x2="520.95" y1="135.60" y2="138.00" stroke="#333333" stroke-width="0.7"/>
<text transform="translate(525.05,138.90) rotate(-90.05)" font-size="5.6" fill="#4d4d4d" text-anchor="end" class="xl">Mizoram</text>
<line x1="528.73" x2="528.73" y1="135.60" y2="138.00" stroke="#333333" stroke-width="0.7"/>
<text transform="translate(532.83,138.90) rotate(-90.05)" font-size="5.6" fill="#4d4d4d" text-anchor="end" class="xl">Nagaland</text>
<line x1="536.51" x2="536.51" y1="135.60" y2="138.00" stroke="#333333" stroke-width="0.7"/>
<text transform="translate(540.61,138.90) rotate(-90.05)" font-size="5.6" fill="#4d4d4d" text-anchor="end" class="xl">Odisha</text>
<line x1="544.30" x2="544.30" y1="135.60" y2="138.00" stroke="#333333" stroke-width="0.7"/>
<text transform="translate(548.40,138.90) rotate(-90.05)" font-size="5.6" fill="#4d4d4d" text-anchor="end" class="xl">Puducherry</text>
<line x1="552.08" x2="552.08" y1="135.60" y2="138.00" stroke="#333333" stroke-width="0.7"/>
<text transform="translate(556.18,138.90) rotate(-90.05)" font-size="5.6" fill="#4d4d4d" text-anchor="end" class="xl">Punjab</text>
<line x1="559.86" x2="559.86" y1="135.60" y2="138.00" stroke="#333333" stroke-width="0.7"/>
<text transform="translate(563.96,138.90) rotate(-90.05)" font-size="5.6" fill="#4d4d4d" text-anchor="end" class="xl">Rajasthan</text>
<line x1="567.64" x2="567.64" y1="135.60" y2="138.00" stroke="#333333" stroke-width="0.7"/>
<text transform="translate(571.74,138.90) rotate(-90.05)" font-size="5.6" fill="#4d4d4d" text-anchor="end" class="xl">Sikkim</text>
<line x1="575.42" x2="575.42" y1="135.60" y2="138.00" stroke="#333333" stroke-width="0.7"/>
<text transform="translate(579.52,138.90) rotate(-90.05)" font-size="5.6" fill="#4d4d4d" text-anchor="end" class="xl">Tamil Nadu</text>
<line x1="583.20" x2="583.20" y1="135.60" y2="138.00" stroke="#333333" stroke-width="0.7"/>
<text transform="translate(587.30,138.90) rotate(-90.05)" font-size="5.6" fill="#4d4d4d" text-anchor="end" class="xl">Telangana</text>
<line x1="590.98" x2="590.98" y1="135.60" y2="138.00" stroke="#333333" stroke-width="0.7"/>
<text transform="translate(595.08,138.90) rotate(-90.05)" font-size="5.6" fill="#4d4d4d" text-anchor="end" class="xl">Tripura</text>
<line x1="598.76" x2="598.76" y1="135.60" y2="138.00" stroke="#333333" stroke-width="0.7"/>
<text transform="translate(602.86,138.90) rotate(-90.05)" font-size="5.6" fill="#4d4d4d" text-anchor="end" class="xl">Uttar Pradesh</text>
<line x1="606.54" x2="606.54" y1="135.60" y2="138.00" stroke="#333333" stroke-width="0.7"/>
<text transform="translate(610.64,138.90) rotate(-90.05)" font-size="5.6" fill="#4d4d4d" text-anchor="end" class="xl">Uttarakhand</text>
<line x1="614.32" x2="614.32" y1="135.60" y2="138.00" stroke="#333333" stroke-width="0.7"/>
<text transform="translate(618.42,138.90) rotate(-90.05)" font-size="5.6" fill="#4d4d4d" text-anchor="end" class="xl">West Bengal</text>
<text transform="translate(345.20,11.40) rotate(0.05) scale(1.06,1)" font-size="9.2" fill="#000" font-weight="bold">2019</text>
<text transform="translate(482.05,191.80) rotate(0.05)" font-size="7.5" fill="#000" text-anchor="middle" class="ax">State/UT</text>
<text transform="translate(320.80,76.55) rotate(-90.05)" font-size="7.5" fill="#000" text-anchor="middle" class="ax">Number of Cases</text>
</g>
<g>
<rect x="34.40" y="213.95" width="273.00" height="118.20" fill="#ffffff"/>
<line x1="34.40" x2="307.40" y1="314.17" y2="314.17" stroke="#e4e4e4" stroke-width="0.45"/>
<line x1="34.40" x2="307.40" y1="288.61" y2="288.61" stroke="#e4e4e4" stroke-width="0.45"/>
<line x1="34.40" x2="307.40" y1="263.05" y2="263.05" stroke="#e4e4e4" stroke-width="0.45"/>
<line x1="34.40" x2="307.40" y1="237.49" y2="237.49" stroke="#e4e4e4" stroke-width="0.45"/>
<line x1="34.40" x2="307.40" y1="326.95" y2="326.95" stroke="#e4e4e4" stroke-width="0.75"/>
<line x1="34.40" x2="307.40" y1="301.39" y2="301.39" stroke="#e4e4e4" stroke-width="0.75"/>
<line x1="34.40" x2="307.40" y1="275.83" y2="275.83" stroke="#e4e4e4" stroke-width="0.75"/>
<line x1="34.40" x2="307.40" y1="250.27" y2="250.27" stroke="#e4e4e4" stroke-width="0.75"/>
<line x1="34.40" x2="307.40" y1="224.71" y2="224.71" stroke="#e4e4e4" stroke-width="0.75"/>
<line x1="38.68" x2="38.68" y1="213.95" y2="332.15" stroke="#e4e4e4" stroke-width="0.75"/>
<line x1="46.46" x2="46.46" y1="213.95" y2="332.15" stroke="#e4e4e4" stroke-width="0.75"/>
<line x1="54.23" x2="54.23" y1="213.95" y2="332.15" stroke="#e4e4e4" stroke-width="0.75"/>
<line x1="62.01" x2="62.01" y1="213.95" y2="332.15" stroke="#e4e4e4" stroke-width="0.75"/>
<line x1="69.79" x2="69.79" y1="213.95" y2="332.15" stroke="#e4e4e4" stroke-width="0.75"/>
<line x1="77.57" x2="77.57" y1="213.95" y2="332.15" stroke="#e4e4e4" stroke-width="0.75"/>
<line x1="85.34" x2="85.34" y1="213.95" y2="332.15" stroke="#e4e4e4" stroke-width="0.75"/>
<line x1="93.12" x2="93.12" y1="213.95" y2="332.15" stroke="#e4e4e4" stroke-width="0.75"/>
<line x1="100.90" x2="100.90" y1="213.95" y2="332.15" stroke="#e4e4e4" stroke-width="0.75"/>
<line x1="108.68" x2="108.68" y1="213.95" y2="332.15" stroke="#e4e4e4" stroke-width="0.75"/>
<line x1="116.46" x2="116.46" y1="213.95" y2="332.15" stroke="#e4e4e4" stroke-width="0.75"/>
<line x1="124.23" x2="124.23" y1="213.95" y2="332.15" stroke="#e4e4e4" stroke-width="0.75"/>
<line x1="132.01" x2="132.01" y1="213.95" y2="332.15" stroke="#e4e4e4" stroke-width="0.75"/>
<line x1="139.79" x2="139.79" y1="213.95" y2="332.15" stroke="#e4e4e4" stroke-width="0.75"/>
<line x1="147.57" x2="147.57" y1="213.95" y2="332.15" stroke="#e4e4e4" stroke-width="0.75"/>
<line x1="155.34" x2="155.34" y1="213.95" y2="332.15" stroke="#e4e4e4" stroke-width="0.75"/>
<line x1="163.12" x2="163.12" y1="213.95" y2="332.15" stroke="#e4e4e4" stroke-width="0.75"/>
<line x1="170.90" x2="170.90" y1="213.95" y2="332.15" stroke="#e4e4e4" stroke-width="0.75"/>
<line x1="178.68" x2="178.68" y1="213.95" y2="332.15" stroke="#e4e4e4" stroke-width="0.75"/>
<line x1="186.46" x2="186.46" y1="213.95" y2="332.15" stroke="#e4e4e4" stroke-width="0.75"/>
<line x1="194.23" x2="194.23" y1="213.95" y2="332.15" stroke="#e4e4e4" stroke-width="0.75"/>
<line x1="202.01" x2="202.01" y1="213.95" y2="332.15" stroke="#e4e4e4" stroke-width="0.75"/>
<line x1="209.79" x2="209.79" y1="213.95" y2="332.15" stroke="#e4e4e4" stroke-width="0.75"/>
<line x1="217.57" x2="217.57" y1="213.95" y2="332.15" stroke="#e4e4e4" stroke-width="0.75"/>
<line x1="225.34" x2="225.34" y1="213.95" y2="332.15" stroke="#e4e4e4" stroke-width="0.75"/>
<line x1="233.12" x2="233.12" y1="213.95" y2="332.15" stroke="#e4e4e4" stroke-width="0.75"/>
<line x1="240.90" x2="240.90" y1="213.95" y2="332.15" stroke="#e4e4e4" stroke-width="0.75"/>
<line x1="248.68" x2="248.68" y1="213.95" y2="332.15" stroke="#e4e4e4" stroke-width="0.75"/>
<line x1="256.46" x2="256.46" y1="213.95" y2="332.15" stroke="#e4e4e4" stroke-width="0.75"/>
<line x1="264.23" x2="264.23" y1="213.95" y2="332.15" stroke="#e4e4e4" stroke-width="0.75"/>
<line x1="272.01" x2="272.01" y1="213.95" y2="332.15" stroke="#e4e4e4" stroke-width="0.75"/>
<line x1="279.79" x2="279.79" y1="213.95" y2="332.15" stroke="#e4e4e4" stroke-width="0.75"/>
<line x1="287.57" x2="287.57" y1="213.95" y2="332.15" stroke="#e4e4e4" stroke-width="0.75"/>
<line x1="295.34" x2="295.34" y1="213.95" y2="332.15" stroke="#e4e4e4" stroke-width="0.75"/>
<line x1="303.12" x2="303.12" y1="213.95" y2="332.15" stroke="#e4e4e4" stroke-width="0.75"/>
<rect x="35.18" y="326.95" width="3.50" height="0.00" fill="#ff0000"/>
<rect x="38.68" y="325.70" width="3.50" height="1.25" fill="#0000ff"/>
<rect x="42.96" y="326.44" width="3.50" height="0.51" fill="#ff0000"/>
<rect x="46.46" y="315.13" width="3.50" height="11.82" fill="#0000ff"/>
<rect x="50.73" y="326.95" width="3.50" height="0.00" fill="#ff0000"/>
<rect x="54.23" y="326.94" width="3.50" height="0.01" fill="#0000ff"/>
<rect x="58.51" y="326.95" width="3.50" height="0.00" fill="#ff0000"/>
<rect x="62.01" y="326.53" width="3.50" height="0.42" fill="#0000ff"/>
<rect x="66.29" y="326.44" width="3.50" height="0.51" fill="#ff0000"/>
<rect x="69.79" y="320.65" width="3.50" height="6.30" fill="#0000ff"/>
<rect x="74.07" y="326.95" width="3.50" height="0.00" fill="#ff0000"/>
<rect x="77.57" y="323.56" width="3.50" height="3.39" fill="#0000ff"/>
<rect x="81.84" y="326.95" width="3.50" height="0.00" fill="#ff0000"/>
<rect x="85.34" y="326.22" width="3.50" height="0.73" fill="#0000ff"/>
<rect x="89.62" y="326.95" width="3.50" height="0.00" fill="#ff0000"/>
<rect x="93.12" y="323.78" width="3.50" height="3.17" fill="#0000ff"/>
<rect x="97.40" y="325.54" width="3.50" height="1.41" fill="#ff0000"/>
<rect x="100.90" y="310.73" width="3.50" height="16.22" fill="#0000ff"/>
<rect x="105.18" y="326.95" width="3.50" height="0.00" fill="#ff0000"/>
<rect x="108.68" y="322.14" width="3.50" height="4.81" fill="#0000ff"/>
<rect x="112.96" y="313.40" width="3.50" height="13.55" fill="#ff0000"/>
<rect x="116.46" y="306.96" width="3.50" height="19.99" fill="#0000ff"/>
<rect x="120.73" y="326.95" width="3.50" height="0.00" fill="#ff0000"/>
<rect x="124.23" y="309.35" width="3.50" height="17.60" fill="#0000ff"/>
<rect x="128.51" y="326.95" width="3.50" height="0.00" fill="#ff0000"/>
<rect x="132.01" y="326.68" width="3.50" height="0.27" fill="#0000ff"/>
<rect x="136.29" y="326.95" width="3.50" height="0.00" fill="#ff0000"/>
<rect x="139.79" y="326.27" width="3.50" height="0.68" fill="#0000ff"/>
<rect x="144.07" y="325.16" width="3.50" height="1.79" fill="#ff0000"/>
<rect x="147.57" y="325.94" width="3.50" height="1.01" fill="#0000ff"/>
<rect x="151.84" y="310.08" width="3.50" height="16.87" fill="#ff0000"/>
<rect x="155.34" y="278.09" width="3.50" height="48.86" fill="#0000ff"/>
<rect x="159.62" y="317.24" width="3.50" height="9.71" fill="#ff0000"/>
<rect x="163.12" y="270.73" width="3.50" height="56.22" fill="#0000ff"/>
<rect x="167.40" y="326.95" width="3.50" height="0.00" fill="#ff0000"/>
<rect x="170.90" y="326.95" width="3.50" height="0.00" fill="#0000ff"/>
<rect x="175.18" y="325.29" width="3.50" height="1.66" fill="#ff0000"/>
<rect x="178.68" y="316.65" width="3.50" height="10.30" fill="#0000ff"/>
<rect x="182.96" y="316.98" width="3.50" height="9.97" fill="#ff0000"/>
<rect x="186.46" y="284.06" width="3.50" height="42.89" fill="#0000ff"/>
<rect x="190.73" y="326.95" width="3.50" height="0.00" fill="#ff0000"/>
<rect x="194.23" y="326.48" width="3.50" height="0.47" fill="#0000ff"/>
<rect x="198.51" y="326.95" width="3.50" height="0.00" fill="#ff0000"/>
<rect x="202.01" y="326.90" width="3.50" height="0.05" fill="#0000ff"/>
<rect x="206.29" y="326.95" width="3.50" height="0.00" fill="#ff0000"/>
<rect x="209.79" y="326.09" width="3.50" height="0.86" fill="#0000ff"/>
<rect x="214.07" y="326.95" width="3.50" height="0.00" fill="#ff0000"/>
<rect x="217.57" y="326.94" width="3.50" height="0.01" fill="#0000ff"/>
<rect x="221.84" y="326.95" width="3.50" height="0.00" fill="#ff0000"/>
<rect x="225.34" y="320.61" width="3.50" height="6.34" fill="#0000ff"/>
<rect x="229.62" y="323.24" width="3.50" height="3.71" fill="#ff0000"/>
<rect x="233.12" y="318.86" width="3.50" height="8.09" fill="#0000ff"/>
<rect x="237.40" y="326.95" width="3.50" height="0.00" fill="#ff0000"/>
<rect x="240.90" y="219.15" width="3.50" height="107.80" fill="#0000ff"/>
<rect x="245.18" y="314.17" width="3.50" height="12.78" fill="#ff0000"/>
<rect x="248.68" y="301.10" width="3.50" height="25.85" fill="#0000ff"/>
<rect x="252.96" y="326.95" width="3.50" height="0.00" fill="#ff0000"/>
<rect x="256.46" y="326.81" width="3.50" height="0.14" fill="#0000ff"/>
<rect x="260.73" y="324.14" width="3.50" height="2.81" fill="#ff0000"/>
<rect x="264.23" y="296.15" width="3.50" height="30.80" fill="#0000ff"/>
<rect x="268.51" y="325.03" width="3.50" height="1.92" fill="#ff0000"/>
<rect x="272.01" y="299.18" width="3.50" height="27.77" fill="#0000ff"/>
<rect x="276.29" y="326.95" width="3.50" height="0.00" fill="#ff0000"/>
<rect x="279.79" y="326.64" width="3.50" height="0.31" fill="#0000ff"/>
<rect x="284.07" y="326.57" width="3.50" height="0.38" fill="#ff0000"/>
<rect x="287.57" y="279.47" width="3.50" height="47.48" fill="#0000ff"/>
<rect x="291.84" y="326.95" width="3.50" height="0.00" fill="#ff0000"/>
<rect x="295.34" y="325.98" width="3.50" height="0.97" fill="#0000ff"/>
<rect x="299.62" y="326.57" width="3.50" height="0.38" fill="#ff0000"/>
<rect x="303.12" y="260.93" width="3.50" height="66.02" fill="#0000ff"/>
<rect x="34.40" y="213.95" width="273.00" height="118.20" fill="none" stroke="#333333" stroke-width="0.38"/>
<line x1="32.10" x2="34.40" y1="326.95" y2="326.95" stroke="#333333" stroke-width="0.65"/>
<text transform="translate(30.80,329.20) rotate(0.05)" font-size="6.1" fill="#4d4d4d" text-anchor="end" class="tk">0</text>
<line x1="32.10" x2="34.40" y1="301.39" y2="301.39" stroke="#333333" stroke-width="0.65"/>
<text transform="translate(30.80,303.64) rotate(0.05)" font-size="6.1" fill="#4d4d4d" text-anchor="end" class="tk">2000</text>
<line x1="32.10" x2="34.40" y1="275.83" y2="275.83" stroke="#333333" stroke-width="0.65"/>
<text transform="translate(30.80,278.08) rotate(0.05)" font-size="6.1" fill="#4d4d4d" text-anchor="end" class="tk">4000</text>
<line x1="32.10" x2="34.40" y1="250.27" y2="250.27" stroke="#333333" stroke-width="0.65"/>
<text transform="translate(30.80,252.52) rotate(0.05)" font-size="6.1" fill="#4d4d4d" text-anchor="end" class="tk">6000</text>
<line x1="32.10" x2="34.40" y1="224.71" y2="224.71" stroke="#333333" stroke-width="0.65"/>
<text transform="translate(30.80,226.96) rotate(0.05)" font-size="6.1" fill="#4d4d4d" text-anchor="end" class="tk">8000</text>
<line x1="38.68" x2="38.68" y1="332.15" y2="334.55" stroke="#333333" stroke-width="0.7"/>
<text transform="translate(42.78,335.45) rotate(-90.05)" font-size="5.6" fill="#4d4d4d" text-anchor="end" class="xl">A&amp; N Island</text>
<line x1="46.46" x2="46.46" y1="332.15" y2="334.55" stroke="#333333" stroke-width="0.7"/>
<text transform="translate(50.56,335.45) rotate(-90.05)" font-size="5.6" fill="#4d4d4d" text-anchor="end" class="xl">Andhra Pradesh</text>
<line x1="54.23" x2="54.23" y1="332.15" y2="334.55" stroke="#333333" stroke-width="0.7"/>
<text transform="translate(58.33,335.45) rotate(-90.05)" font-size="5.6" fill="#4d4d4d" text-anchor="end" class="xl">Arunachal Pd.</text>
<line x1="62.01" x2="62.01" y1="332.15" y2="334.55" stroke="#333333" stroke-width="0.7"/>
<text transform="translate(66.11,335.45) rotate(-90.05)" font-size="5.6" fill="#4d4d4d" text-anchor="end" class="xl">Assam</text>
<line x1="69.79" x2="69.79" y1="332.15" y2="334.55" stroke="#333333" stroke-width="0.7"/>
<text transform="translate(73.89,335.45) rotate(-90.05)" font-size="5.6" fill="#4d4d4d" text-anchor="end" class="xl">Bihar</text>
<line x1="77.57" x2="77.57" y1="332.15" y2="334.55" stroke="#333333" stroke-width="0.7"/>
<text transform="translate(81.67,335.45) rotate(-90.05)" font-size="5.6" fill="#4d4d4d" text-anchor="end" class="xl">Chandigarh</text>
<line x1="85.34" x2="85.34" y1="332.15" y2="334.55" stroke="#333333" stroke-width="0.7"/>
<text transform="translate(89.44,335.45) rotate(-90.05)" font-size="5.6" fill="#4d4d4d" text-anchor="end" class="xl">Chhattisgarh</text>
<line x1="93.12" x2="93.12" y1="332.15" y2="334.55" stroke="#333333" stroke-width="0.7"/>
<text transform="translate(97.22,335.45) rotate(-90.05)" font-size="5.6" fill="#4d4d4d" text-anchor="end" class="xl">D&amp;N Haveli</text>
<line x1="100.90" x2="100.90" y1="332.15" y2="334.55" stroke="#333333" stroke-width="0.7"/>
<text transform="translate(105.00,335.45) rotate(-90.05)" font-size="5.6" fill="#4d4d4d" text-anchor="end" class="xl">Delhi</text>
<line x1="108.68" x2="108.68" y1="332.15" y2="334.55" stroke="#333333" stroke-width="0.7"/>
<text transform="translate(112.78,335.45) rotate(-90.05)" font-size="5.6" fill="#4d4d4d" text-anchor="end" class="xl">Goa</text>
<line x1="116.46" x2="116.46" y1="332.15" y2="334.55" stroke="#333333" stroke-width="0.7"/>
<text transform="translate(120.56,335.45) rotate(-90.05)" font-size="5.6" fill="#4d4d4d" text-anchor="end" class="xl">Gujarat</text>
<line x1="124.23" x2="124.23" y1="332.15" y2="334.55" stroke="#333333" stroke-width="0.7"/>
<text transform="translate(128.33,335.45) rotate(-90.05)" font-size="5.6" fill="#4d4d4d" text-anchor="end" class="xl">Haryana</text>
<line x1="132.01" x2="132.01" y1="332.15" y2="334.55" stroke="#333333" stroke-width="0.7"/>
<text transform="translate(136.11,335.45) rotate(-90.05)" font-size="5.6" fill="#4d4d4d" text-anchor="end" class="xl">Himachal Pradesh</text>
<line x1="139.79" x2="139.79" y1="332.15" y2="334.55" stroke="#333333" stroke-width="0.7"/>
<text transform="translate(143.89,335.45) rotate(-90.05)" font-size="5.6" fill="#4d4d4d" text-anchor="end" class="xl">J&amp;K</text>
<line x1="147.57" x2="147.57" y1="332.15" y2="334.55" stroke="#333333" stroke-width="0.7"/>
<text transform="translate(151.67,335.45) rotate(-90.05)" font-size="5.6" fill="#4d4d4d" text-anchor="end" class="xl">Jharkhand</text>
<line x1="155.34" x2="155.34" y1="332.15" y2="334.55" stroke="#333333" stroke-width="0.7"/>
<text transform="translate(159.44,335.45) rotate(-90.05)" font-size="5.6" fill="#4d4d4d" text-anchor="end" class="xl">Karnataka</text>
<line x1="163.12" x2="163.12" y1="332.15" y2="334.55" stroke="#333333" stroke-width="0.7"/>
<text transform="translate(167.22,335.45) rotate(-90.05)" font-size="5.6" fill="#4d4d4d" text-anchor="end" class="xl">Kerala</text>
<line x1="170.90" x2="170.90" y1="332.15" y2="334.55" stroke="#333333" stroke-width="0.7"/>
<text transform="translate(175.00,335.45) rotate(-90.05)" font-size="5.6" fill="#4d4d4d" text-anchor="end" class="xl">Lakshadweep</text>
<line x1="178.68" x2="178.68" y1="332.15" y2="334.55" stroke="#333333" stroke-width="0.7"/>
<text transform="translate(182.78,335.45) rotate(-90.05)" font-size="5.6" fill="#4d4d4d" text-anchor="end" class="xl">Madhya Pd.</text>
<line x1="186.46" x2="186.46" y1="332.15" y2="334.55" stroke="#333333" stroke-width="0.7"/>
<text transform="translate(190.56,335.45) rotate(-90.05)" font-size="5.6" fill="#4d4d4d" text-anchor="end" class="xl">Maharashtra</text>
<line x1="194.23" x2="194.23" y1="332.15" y2="334.55" stroke="#333333" stroke-width="0.7"/>
<text transform="translate(198.33,335.45) rotate(-90.05)" font-size="5.6" fill="#4d4d4d" text-anchor="end" class="xl">Manipur</text>
<line x1="202.01" x2="202.01" y1="332.15" y2="334.55" stroke="#333333" stroke-width="0.7"/>
<text transform="translate(206.11,335.45) rotate(-90.05)" font-size="5.6" fill="#4d4d4d" text-anchor="end" class="xl">Meghalaya</text>
<line x1="209.79" x2="209.79" y1="332.15" y2="334.55" stroke="#333333" stroke-width="0.7"/>
<text transform="translate(213.89,335.45) rotate(-90.05)" font-size="5.6" fill="#4d4d4d" text-anchor="end" class="xl">Mizoram</text>
<line x1="217.57" x2="217.57" y1="332.15" y2="334.55" stroke="#333333" stroke-width="0.7"/>
<text transform="translate(221.67,335.45) rotate(-90.05)" font-size="5.6" fill="#4d4d4d" text-anchor="end" class="xl">Nagaland</text>
<line x1="225.34" x2="225.34" y1="332.15" y2="334.55" stroke="#333333" stroke-width="0.7"/>
<text transform="translate(229.44,335.45) rotate(-90.05)" font-size="5.6" fill="#4d4d4d" text-anchor="end" class="xl">Odisha</text>
<line x1="233.12" x2="233.12" y1="332.15" y2="334.55" stroke="#333333" stroke-width="0.7"/>
<text transform="translate(237.22,335.45) rotate(-90.05)" font-size="5.6" fill="#4d4d4d" text-anchor="end" class="xl">Puducherry</text>
<line x1="240.90" x2="240.90" y1="332.15" y2="334.55" stroke="#333333" stroke-width="0.7"/>
<text transform="translate(245.00,335.45) rotate(-90.05)" font-size="5.6" fill="#4d4d4d" text-anchor="end" class="xl">Punjab</text>
<line x1="248.68" x2="248.68" y1="332.15" y2="334.55" stroke="#333333" stroke-width="0.7"/>
<text transform="translate(252.78,335.45) rotate(-90.05)" font-size="5.6" fill="#4d4d4d" text-anchor="end" class="xl">Rajasthan</text>
<line x1="256.46" x2="256.46" y1="332.15" y2="334.55" stroke="#333333" stroke-width="0.7"/>
<text transform="translate(260.56,335.45) rotate(-90.05)" font-size="5.6" fill="#4d4d4d" text-anchor="end" class="xl">Sikkim</text>
<line x1="264.23" x2="264.23" y1="332.15" y2="334.55" stroke="#333333" stroke-width="0.7"/>
<text transform="translate(268.33,335.45) rotate(-90.05)" font-size="5.6" fill="#4d4d4d" text-anchor="end" class="xl">Tamil Nadu</text>
<line x1="272.01" x2="272.01" y1="332.15" y2="334.55" stroke="#333333" stroke-width="0.7"/>
<text transform="translate(276.11,335.45) rotate(-90.05)" font-size="5.6" fill="#4d4d4d" text-anchor="end" class="xl">Telangana</text>
<line x1="279.79" x2="279.79" y1="332.15" y2="334.55" stroke="#333333" stroke-width="0.7"/>
<text transform="translate(283.89,335.45) rotate(-90.05)" font-size="5.6" fill="#4d4d4d" text-anchor="end" class="xl">Tripura</text>
<line x1="287.57" x2="287.57" y1="332.15" y2="334.55" stroke="#333333" stroke-width="0.7"/>
<text transform="translate(291.67,335.45) rotate(-90.05)" font-size="5.6" fill="#4d4d4d" text-anchor="end" class="xl">Uttar Pradesh</text>
<line x1="295.34" x2="295.34" y1="332.15" y2="334.55" stroke="#333333" stroke-width="0.7"/>
<text transform="translate(299.44,335.45) rotate(-90.05)" font-size="5.6" fill="#4d4d4d" text-anchor="end" class="xl">Uttarakhand</text>
<line x1="303.12" x2="303.12" y1="332.15" y2="334.55" stroke="#333333" stroke-width="0.7"/>
<text transform="translate(307.22,335.45) rotate(-90.05)" font-size="5.6" fill="#4d4d4d" text-anchor="end" class="xl">West Bengal</text>
<text transform="translate(34.10,207.85) rotate(0.05) scale(1.06,1)" font-size="9.2" fill="#000" font-weight="bold">2020</text>
<text transform="translate(170.90,388.35) rotate(0.05)" font-size="7.5" fill="#000" text-anchor="middle" class="ax">State/UT</text>
<text transform="translate(9.70,273.05) rotate(-90.05)" font-size="7.5" fill="#000" text-anchor="middle" class="ax">Number of Cases</text>
</g>
<g>
<rect x="345.50" y="213.95" width="273.10" height="118.20" fill="#ffffff"/>
<line x1="345.50" x2="618.60" y1="308.83" y2="308.83" stroke="#e4e4e4" stroke-width="0.45"/>
<line x1="345.50" x2="618.60" y1="272.60" y2="272.60" stroke="#e4e4e4" stroke-width="0.45"/>
<line x1="345.50" x2="618.60" y1="236.36" y2="236.36" stroke="#e4e4e4" stroke-width="0.45"/>
<line x1="345.50" x2="618.60" y1="326.95" y2="326.95" stroke="#e4e4e4" stroke-width="0.75"/>
<line x1="345.50" x2="618.60" y1="290.71" y2="290.71" stroke="#e4e4e4" stroke-width="0.75"/>
<line x1="345.50" x2="618.60" y1="254.48" y2="254.48" stroke="#e4e4e4" stroke-width="0.75"/>
<line x1="345.50" x2="618.60" y1="218.24" y2="218.24" stroke="#e4e4e4" stroke-width="0.75"/>
<line x1="349.78" x2="349.78" y1="213.95" y2="332.15" stroke="#e4e4e4" stroke-width="0.75"/>
<line x1="357.56" x2="357.56" y1="213.95" y2="332.15" stroke="#e4e4e4" stroke-width="0.75"/>
<line x1="365.34" x2="365.34" y1="213.95" y2="332.15" stroke="#e4e4e4" stroke-width="0.75"/>
<line x1="373.12" x2="373.12" y1="213.95" y2="332.15" stroke="#e4e4e4" stroke-width="0.75"/>
<line x1="380.90" x2="380.90" y1="213.95" y2="332.15" stroke="#e4e4e4" stroke-width="0.75"/>
<line x1="388.68" x2="388.68" y1="213.95" y2="332.15" stroke="#e4e4e4" stroke-width="0.75"/>
<line x1="396.46" x2="396.46" y1="213.95" y2="332.15" stroke="#e4e4e4" stroke-width="0.75"/>
<line x1="404.24" x2="404.24" y1="213.95" y2="332.15" stroke="#e4e4e4" stroke-width="0.75"/>
<line x1="412.02" x2="412.02" y1="213.95" y2="332.15" stroke="#e4e4e4" stroke-width="0.75"/>
<line x1="419.80" x2="419.80" y1="213.95" y2="332.15" stroke="#e4e4e4" stroke-width="0.75"/>
<line x1="427.59" x2="427.59" y1="213.95" y2="332.15" stroke="#e4e4e4" stroke-width="0.75"/>
<line x1="435.37" x2="435.37" y1="213.95" y2="332.15" stroke="#e4e4e4" stroke-width="0.75"/>
<line x1="443.15" x2="443.15" y1="213.95" y2="332.15" stroke="#e4e4e4" stroke-width="0.75"/>
<line x1="450.93" x2="450.93" y1="213.95" y2="332.15" stroke="#e4e4e4" stroke-width="0.75"/>
<line x1="458.71" x2="458.71" y1="213.95" y2="332.15" stroke="#e4e4e4" stroke-width="0.75"/>
<line x1="466.49" x2="466.49" y1="213.95" y2="332.15" stroke="#e4e4e4" stroke-width="0.75"/>
<line x1="474.27" x2="474.27" y1="213.95" y2="332.15" stroke="#e4e4e4" stroke-width="0.75"/>
<line x1="482.05" x2="482.05" y1="213.95" y2="332.15" stroke="#e4e4e4" stroke-width="0.75"/>
<line x1="489.83" x2="489.83" y1="213.95" y2="332.15" stroke="#e4e4e4" stroke-width="0.75"/>
<line x1="497.61" x2="497.61" y1="213.95" y2="332.15" stroke="#e4e4e4" stroke-width="0.75"/>
<line x1="505.39" x2="505.39" y1="213.95" y2="332.15" stroke="#e4e4e4" stroke-width="0.75"/>
<line x1="513.17" x2="513.17" y1="213.95" y2="332.15" stroke="#e4e4e4" stroke-width="0.75"/>
<line x1="520.95" x2="520.95" y1="213.95" y2="332.15" stroke="#e4e4e4" stroke-width="0.75"/>
<line x1="528.73" x2="528.73" y1="213.95" y2="332.15" stroke="#e4e4e4" stroke-width="0.75"/>
<line x1="536.51" x2="536.51" y1="213.95" y2="332.15" stroke="#e4e4e4" stroke-width="0.75"/>
<line x1="544.30" x2="544.30" y1="213.95" y2="332.15" stroke="#e4e4e4" stroke-width="0.75"/>
<line x1="552.08" x2="552.08" y1="213.95" y2="332.15" stroke="#e4e4e4" stroke-width="0.75"/>
<line x1="559.86" x2="559.86" y1="213.95" y2="332.15" stroke="#e4e4e4" stroke-width="0.75"/>
<line x1="567.64" x2="567.64" y1="213.95" y2="332.15" stroke="#e4e4e4" stroke-width="0.75"/>
<line x1="575.42" x2="575.42" y1="213.95" y2="332.15" stroke="#e4e4e4" stroke-width="0.75"/>
<line x1="583.20" x2="583.20" y1="213.95" y2="332.15" stroke="#e4e4e4" stroke-width="0.75"/>
<line x1="590.98" x2="590.98" y1="213.95" y2="332.15" stroke="#e4e4e4" stroke-width="0.75"/>
<line x1="598.76" x2="598.76" y1="213.95" y2="332.15" stroke="#e4e4e4" stroke-width="0.75"/>
<line x1="606.54" x2="606.54" y1="213.95" y2="332.15" stroke="#e4e4e4" stroke-width="0.75"/>
<line x1="614.32" x2="614.32" y1="213.95" y2="332.15" stroke="#e4e4e4" stroke-width="0.75"/>
<rect x="346.28" y="326.95" width="3.50" height="0.00" fill="#ff0000"/>
<rect x="349.78" y="326.32" width="3.50" height="0.63" fill="#0000ff"/>
<rect x="354.06" y="326.73" width="3.50" height="0.22" fill="#ff0000"/>
<rect x="357.56" y="309.70" width="3.50" height="17.25" fill="#0000ff"/>
<rect x="361.84" y="326.95" width="3.50" height="0.00" fill="#ff0000"/>
<rect x="365.34" y="326.92" width="3.50" height="0.03" fill="#0000ff"/>
<rect x="369.62" y="326.95" width="3.50" height="0.00" fill="#ff0000"/>
<rect x="373.12" y="326.58" width="3.50" height="0.37" fill="#0000ff"/>
<rect x="377.40" y="326.88" width="3.50" height="0.07" fill="#ff0000"/>
<rect x="380.90" y="324.66" width="3.50" height="2.29" fill="#0000ff"/>
<rect x="385.18" y="326.95" width="3.50" height="0.00" fill="#ff0000"/>
<rect x="388.68" y="321.17" width="3.50" height="5.78" fill="#0000ff"/>
<rect x="392.96" y="326.95" width="3.50" height="0.00" fill="#ff0000"/>
<rect x="396.46" y="323.01" width="3.50" height="3.94" fill="#0000ff"/>
<rect x="400.74" y="326.95" width="3.50" height="0.00" fill="#ff0000"/>
<rect x="404.24" y="324.97" width="3.50" height="1.98" fill="#0000ff"/>
<rect x="408.52" y="326.62" width="3.50" height="0.33" fill="#ff0000"/>
<rect x="412.02" y="279.52" width="3.50" height="47.43" fill="#0000ff"/>
<rect x="416.30" y="326.95" width="3.50" height="0.00" fill="#ff0000"/>
<rect x="419.80" y="324.60" width="3.50" height="2.35" fill="#0000ff"/>
<rect x="424.08" y="312.31" width="3.50" height="14.64" fill="#ff0000"/>
<rect x="427.59" y="287.15" width="3.50" height="39.80" fill="#0000ff"/>
<rect x="431.86" y="326.95" width="3.50" height="0.00" fill="#ff0000"/>
<rect x="435.37" y="284.07" width="3.50" height="42.88" fill="#0000ff"/>
<rect x="439.65" y="326.95" width="3.50" height="0.00" fill="#ff0000"/>
<rect x="443.15" y="325.69" width="3.50" height="1.26" fill="#0000ff"/>
<rect x="447.43" y="326.95" width="3.50" height="0.00" fill="#ff0000"/>
<rect x="450.93" y="320.76" width="3.50" height="6.19" fill="#0000ff"/>
<rect x="455.21" y="326.23" width="3.50" height="0.72" fill="#ff0000"/>
<rect x="458.71" y="326.15" width="3.50" height="0.80" fill="#0000ff"/>
<rect x="462.99" y="319.23" width="3.50" height="7.72" fill="#ff0000"/>
<rect x="466.49" y="300.16" width="3.50" height="26.79" fill="#0000ff"/>
<rect x="470.77" y="325.75" width="3.50" height="1.20" fill="#ff0000"/>
<rect x="474.27" y="315.17" width="3.50" height="11.78" fill="#0000ff"/>
<rect x="478.55" y="326.95" width="3.50" height="0.00" fill="#ff0000"/>
<rect x="482.05" y="326.95" width="3.50" height="0.00" fill="#0000ff"/>
<rect x="486.33" y="325.50" width="3.50" height="1.45" fill="#ff0000"/>
<rect x="489.83" y="270.45" width="3.50" height="56.50" fill="#0000ff"/>
<rect x="494.11" y="317.78" width="3.50" height="9.17" fill="#ff0000"/>
<rect x="497.61" y="280.86" width="3.50" height="46.09" fill="#0000ff"/>
<rect x="501.89" y="326.95" width="3.50" height="0.00" fill="#ff0000"/>
<rect x="505.39" y="326.21" width="3.50" height="0.74" fill="#0000ff"/>
<rect x="509.67" y="326.95" width="3.50" height="0.00" fill="#ff0000"/>
<rect x="513.17" y="326.48" width="3.50" height="0.47" fill="#0000ff"/>
<rect x="517.45" y="326.95" width="3.50" height="0.00" fill="#ff0000"/>
<rect x="520.95" y="326.65" width="3.50" height="0.30" fill="#0000ff"/>
<rect x="525.23" y="326.95" width="3.50" height="0.00" fill="#ff0000"/>
<rect x="528.73" y="326.86" width="3.50" height="0.09" fill="#0000ff"/>
<rect x="533.01" y="326.95" width="3.50" height="0.00" fill="#ff0000"/>
<rect x="536.51" y="299.60" width="3.50" height="27.35" fill="#0000ff"/>
<rect x="540.79" y="326.19" width="3.50" height="0.76" fill="#ff0000"/>
<rect x="544.30" y="321.06" width="3.50" height="5.89" fill="#0000ff"/>
<rect x="548.57" y="326.73" width="3.50" height="0.22" fill="#ff0000"/>
<rect x="552.08" y="242.20" width="3.50" height="84.75" fill="#0000ff"/>
<rect x="556.35" y="323.51" width="3.50" height="3.44" fill="#ff0000"/>
<rect x="559.86" y="251.77" width="3.50" height="75.18" fill="#0000ff"/>
<rect x="564.14" y="326.95" width="3.50" height="0.00" fill="#ff0000"/>
<rect x="567.64" y="326.07" width="3.50" height="0.88" fill="#0000ff"/>
<rect x="571.92" y="326.41" width="3.50" height="0.54" fill="#ff0000"/>
<rect x="575.42" y="305.07" width="3.50" height="21.88" fill="#0000ff"/>
<rect x="579.70" y="326.70" width="3.50" height="0.25" fill="#ff0000"/>
<rect x="583.20" y="301.10" width="3.50" height="25.85" fill="#0000ff"/>
<rect x="587.48" y="326.95" width="3.50" height="0.00" fill="#ff0000"/>
<rect x="590.98" y="325.69" width="3.50" height="1.26" fill="#0000ff"/>
<rect x="595.26" y="326.66" width="3.50" height="0.29" fill="#ff0000"/>
<rect x="598.76" y="219.15" width="3.50" height="107.80" fill="#0000ff"/>
<rect x="603.04" y="326.95" width="3.50" height="0.00" fill="#ff0000"/>
<rect x="606.54" y="324.28" width="3.50" height="2.67" fill="#0000ff"/>
<rect x="610.82" y="326.95" width="3.50" height="0.00" fill="#ff0000"/>
<rect x="614.32" y="297.01" width="3.50" height="29.94" fill="#0000ff"/>
<rect x="345.50" y="213.95" width="273.10" height="118.20" fill="none" stroke="#333333" stroke-width="0.38"/>
<line x1="343.20" x2="345.50" y1="326.95" y2="326.95" stroke="#333333" stroke-width="0.65"/>
<text transform="translate(341.90,329.20) rotate(0.05)" font-size="6.1" fill="#4d4d4d" text-anchor="end" class="tk">0</text>
<line x1="343.20" x2="345.50" y1="290.71" y2="290.71" stroke="#333333" stroke-width="0.65"/>
<text transform="translate(341.90,292.96) rotate(0.05)" font-size="6.1" fill="#4d4d4d" text-anchor="end" class="tk">10000</text>
<line x1="343.20" x2="345.50" y1="254.48" y2="254.48" stroke="#333333" stroke-width="0.65"/>
<text transform="translate(341.90,256.73) rotate(0.05)" font-size="6.1" fill="#4d4d4d" text-anchor="end" class="tk">20000</text>
<line x1="343.20" x2="345.50" y1="218.24" y2="218.24" stroke="#333333" stroke-width="0.65"/>
<text transform="translate(341.90,220.49) rotate(0.05)" font-size="6.1" fill="#4d4d4d" text-anchor="end" class="tk">30000</text>
<line x1="349.78" x2="349.78" y1="332.15" y2="334.55" stroke="#333333" stroke-width="0.7"/>
<text transform="translate(353.88,335.45) rotate(-90.05)" font-size="5.6" fill="#4d4d4d" text-anchor="end" class="xl">A&amp; N Island</text>
<line x1="357.56" x2="357.56" y1="332.15" y2="334.55" stroke="#333333" stroke-width="0.7"/>
<text transform="translate(361.66,335.45) rotate(-90.05)" font-size="5.6" fill="#4d4d4d" text-anchor="end" class="xl">Andhra Pradesh</text>
<line x1="365.34" x2="365.34" y1="332.15" y2="334.55" stroke="#333333" stroke-width="0.7"/>
<text transform="translate(369.44,335.45) rotate(-90.05)" font-size="5.6" fill="#4d4d4d" text-anchor="end" class="xl">Arunachal Pd.</text>
<line x1="373.12" x2="373.12" y1="332.15" y2="334.55" stroke="#333333" stroke-width="0.7"/>
<text transform="translate(377.22,335.45) rotate(-90.05)" font-size="5.6" fill="#4d4d4d" text-anchor="end" class="xl">Assam</text>
<line x1="380.90" x2="380.90" y1="332.15" y2="334.55" stroke="#333333" stroke-width="0.7"/>
<text transform="translate(385.00,335.45) rotate(-90.05)" font-size="5.6" fill="#4d4d4d" text-anchor="end" class="xl">Bihar</text>
<line x1="388.68" x2="388.68" y1="332.15" y2="334.55" stroke="#333333" stroke-width="0.7"/>
<text transform="translate(392.78,335.45) rotate(-90.05)" font-size="5.6" fill="#4d4d4d" text-anchor="end" class="xl">Chandigarh</text>
<line x1="396.46" x2="396.46" y1="332.15" y2="334.55" stroke="#333333" stroke-width="0.7"/>
<text transform="translate(400.56,335.45) rotate(-90.05)" font-size="5.6" fill="#4d4d4d" text-anchor="end" class="xl">Chhattisgarh</text>
<line x1="404.24" x2="404.24" y1="332.15" y2="334.55" stroke="#333333" stroke-width="0.7"/>
<text transform="translate(408.34,335.45) rotate(-90.05)" font-size="5.6" fill="#4d4d4d" text-anchor="end" class="xl">D&amp;N Haveli</text>
<line x1="412.02" x2="412.02" y1="332.15" y2="334.55" stroke="#333333" stroke-width="0.7"/>
<text transform="translate(416.12,335.45) rotate(-90.05)" font-size="5.6" fill="#4d4d4d" text-anchor="end" class="xl">Delhi</text>
<line x1="419.80" x2="419.80" y1="332.15" y2="334.55" stroke="#333333" stroke-width="0.7"/>
<text transform="translate(423.90,335.45) rotate(-90.05)" font-size="5.6" fill="#4d4d4d" text-anchor="end" class="xl">Goa</text>
<line x1="427.59" x2="427.59" y1="332.15" y2="334.55" stroke="#333333" stroke-width="0.7"/>
<text transform="translate(431.69,335.45) rotate(-90.05)" font-size="5.6" fill="#4d4d4d" text-anchor="end" class="xl">Gujarat</text>
<line x1="435.37" x2="435.37" y1="332.15" y2="334.55" stroke="#333333" stroke-width="0.7"/>
<text transform="translate(439.47,335.45) rotate(-90.05)" font-size="5.6" fill="#4d4d4d" text-anchor="end" class="xl">Haryana</text>
<line x1="443.15" x2="443.15" y1="332.15" y2="334.55" stroke="#333333" stroke-width="0.7"/>
<text transform="translate(447.25,335.45) rotate(-90.05)" font-size="5.6" fill="#4d4d4d" text-anchor="end" class="xl">Himachal Pradesh</text>
<line x1="450.93" x2="450.93" y1="332.15" y2="334.55" stroke="#333333" stroke-width="0.7"/>
<text transform="translate(455.03,335.45) rotate(-90.05)" font-size="5.6" fill="#4d4d4d" text-anchor="end" class="xl">J&amp;K</text>
<line x1="458.71" x2="458.71" y1="332.15" y2="334.55" stroke="#333333" stroke-width="0.7"/>
<text transform="translate(462.81,335.45) rotate(-90.05)" font-size="5.6" fill="#4d4d4d" text-anchor="end" class="xl">Jharkhand</text>
<line x1="466.49" x2="466.49" y1="332.15" y2="334.55" stroke="#333333" stroke-width="0.7"/>
<text transform="translate(470.59,335.45) rotate(-90.05)" font-size="5.6" fill="#4d4d4d" text-anchor="end" class="xl">Karnataka</text>
<line x1="474.27" x2="474.27" y1="332.15" y2="334.55" stroke="#333333" stroke-width="0.7"/>
<text transform="translate(478.37,335.45) rotate(-90.05)" font-size="5.6" fill="#4d4d4d" text-anchor="end" class="xl">Kerala</text>
<line x1="482.05" x2="482.05" y1="332.15" y2="334.55" stroke="#333333" stroke-width="0.7"/>
<text transform="translate(486.15,335.45) rotate(-90.05)" font-size="5.6" fill="#4d4d4d" text-anchor="end" class="xl">Lakshadweep</text>
<line x1="489.83" x2="489.83" y1="332.15" y2="334.55" stroke="#333333" stroke-width="0.7"/>
<text transform="translate(493.93,335.45) rotate(-90.05)" font-size="5.6" fill="#4d4d4d" text-anchor="end" class="xl">Madhya Pd.</text>
<line x1="497.61" x2="497.61" y1="332.15" y2="334.55" stroke="#333333" stroke-width="0.7"/>
<text transform="translate(501.71,335.45) rotate(-90.05)" font-size="5.6" fill="#4d4d4d" text-anchor="end" class="xl">Maharashtra</text>
<line x1="505.39" x2="505.39" y1="332.15" y2="334.55" stroke="#333333" stroke-width="0.7"/>
<text transform="translate(509.49,335.45) rotate(-90.05)" font-size="5.6" fill="#4d4d4d" text-anchor="end" class="xl">Manipur</text>
<line x1="513.17" x2="513.17" y1="332.15" y2="334.55" stroke="#333333" stroke-width="0.7"/>
<text transform="translate(517.27,335.45) rotate(-90.05)" font-size="5.6" fill="#4d4d4d" text-anchor="end" class="xl">Meghalaya</text>
<line x1="520.95" x2="520.95" y1="332.15" y2="334.55" stroke="#333333" stroke-width="0.7"/>
<text transform="translate(525.05,335.45) rotate(-90.05)" font-size="5.6" fill="#4d4d4d" text-anchor="end" class="xl">Mizoram</text>
<line x1="528.73" x2="528.73" y1="332.15" y2="334.55" stroke="#333333" stroke-width="0.7"/>
<text transform="translate(532.83,335.45) rotate(-90.05)" font-size="5.6" fill="#4d4d4d" text-anchor="end" class="xl">Nagaland</text>
<line x1="536.51" x2="536.51" y1="332.15" y2="334.55" stroke="#333333" stroke-width="0.7"/>
<text transform="translate(540.61,335.45) rotate(-90.05)" font-size="5.6" fill="#4d4d4d" text-anchor="end" class="xl">Odisha</text>
<line x1="544.30" x2="544.30" y1="332.15" y2="334.55" stroke="#333333" stroke-width="0.7"/>
<text transform="translate(548.40,335.45) rotate(-90.05)" font-size="5.6" fill="#4d4d4d" text-anchor="end" class="xl">Puducherry</text>
<line x1="552.08" x2="552.08" y1="332.15" y2="334.55" stroke="#333333" stroke-width="0.7"/>
<text transform="translate(556.18,335.45) rotate(-90.05)" font-size="5.6" fill="#4d4d4d" text-anchor="end" class="xl">Punjab</text>
<line x1="559.86" x2="559.86" y1="332.15" y2="334.55" stroke="#333333" stroke-width="0.7"/>
<text transform="translate(563.96,335.45) rotate(-90.05)" font-size="5.6" fill="#4d4d4d" text-anchor="end" class="xl">Rajasthan</text>
<line x1="567.64" x2="567.64" y1="332.15" y2="334.55" stroke="#333333" stroke-width="0.7"/>
<text transform="translate(571.74,335.45) rotate(-90.05)" font-size="5.6" fill="#4d4d4d" text-anchor="end" class="xl">Sikkim</text>
<line x1="575.42" x2="575.42" y1="332.15" y2="334.55" stroke="#333333" stroke-width="0.7"/>
<text transform="translate(579.52,335.45) rotate(-90.05)" font-size="5.6" fill="#4d4d4d" text-anchor="end" class="xl">Tamil Nadu</text>
<line x1="583.20" x2="583.20" y1="332.15" y2="334.55" stroke="#333333" stroke-width="0.7"/>
<text transform="translate(587.30,335.45) rotate(-90.05)" font-size="5.6" fill="#4d4d4d" text-anchor="end" class="xl">Telangana</text>
<line x1="590.98" x2="590.98" y1="332.15" y2="334.55" stroke="#333333" stroke-width="0.7"/>
<text transform="translate(595.08,335.45) rotate(-90.05)" font-size="5.6" fill="#4d4d4d" text-anchor="end" class="xl">Tripura</text>
<line x1="598.76" x2="598.76" y1="332.15" y2="334.55" stroke="#333333" stroke-width="0.7"/>
<text transform="translate(602.86,335.45) rotate(-90.05)" font-size="5.6" fill="#4d4d4d" text-anchor="end" class="xl">Uttar Pradesh</text>
<line x1="606.54" x2="606.54" y1="332.15" y2="334.55" stroke="#333333" stroke-width="0.7"/>
<text transform="translate(610.64,335.45) rotate(-90.05)" font-size="5.6" fill="#4d4d4d" text-anchor="end" class="xl">Uttarakhand</text>
<line x1="614.32" x2="614.32" y1="332.15" y2="334.55" stroke="#333333" stroke-width="0.7"/>
<text transform="translate(618.42,335.45) rotate(-90.05)" font-size="5.6" fill="#4d4d4d" text-anchor="end" class="xl">West Bengal</text>
<text transform="translate(345.20,207.85) rotate(0.05) scale(1.06,1)" font-size="9.2" fill="#000" font-weight="bold">2021</text>
<text transform="translate(482.05,388.35) rotate(0.05)" font-size="7.5" fill="#000" text-anchor="middle" class="ax">State/UT</text>
<text transform="translate(320.80,273.05) rotate(-90.05)" font-size="7.5" fill="#000" text-anchor="middle" class="ax">Number of Cases</text>
</g>
<g>
<rect x="34.40" y="410.50" width="273.00" height="117.90" fill="#ffffff"/>
<line x1="34.40" x2="307.40" y1="507.22" y2="507.22" stroke="#e4e4e4" stroke-width="0.45"/>
<line x1="34.40" x2="307.40" y1="475.26" y2="475.26" stroke="#e4e4e4" stroke-width="0.45"/>
<line x1="34.40" x2="307.40" y1="443.30" y2="443.30" stroke="#e4e4e4" stroke-width="0.45"/>
<line x1="34.40" x2="307.40" y1="411.34" y2="411.34" stroke="#e4e4e4" stroke-width="0.45"/>
<line x1="34.40" x2="307.40" y1="523.20" y2="523.20" stroke="#e4e4e4" stroke-width="0.75"/>
<line x1="34.40" x2="307.40" y1="491.24" y2="491.24" stroke="#e4e4e4" stroke-width="0.75"/>
<line x1="34.40" x2="307.40" y1="459.28" y2="459.28" stroke="#e4e4e4" stroke-width="0.75"/>
<line x1="34.40" x2="307.40" y1="427.32" y2="427.32" stroke="#e4e4e4" stroke-width="0.75"/>
<line x1="38.68" x2="38.68" y1="410.50" y2="528.40" stroke="#e4e4e4" stroke-width="0.75"/>
<line x1="46.46" x2="46.46" y1="410.50" y2="528.40" stroke="#e4e4e4" stroke-width="0.75"/>
<line x1="54.23" x2="54.23" y1="410.50" y2="528.40" stroke="#e4e4e4" stroke-width="0.75"/>
<line x1="62.01" x2="62.01" y1="410.50" y2="528.40" stroke="#e4e4e4" stroke-width="0.75"/>
<line x1="69.79" x2="69.79" y1="410.50" y2="528.40" stroke="#e4e4e4" stroke-width="0.75"/>
<line x1="77.57" x2="77.57" y1="410.50" y2="528.40" stroke="#e4e4e4" stroke-width="0.75"/>
<line x1="85.34" x2="85.34" y1="410.50" y2="528.40" stroke="#e4e4e4" stroke-width="0.75"/>
<line x1="93.12" x2="93.12" y1="410.50" y2="528.40" stroke="#e4e4e4" stroke-width="0.75"/>
<line x1="100.90" x2="100.90" y1="410.50" y2="528.40" stroke="#e4e4e4" stroke-width="0.75"/>
<line x1="108.68" x2="108.68" y1="410.50" y2="528.40" stroke="#e4e4e4" stroke-width="0.75"/>
<line x1="116.46" x2="116.46" y1="410.50" y2="528.40" stroke="#e4e4e4" stroke-width="0.75"/>
<line x1="124.23" x2="124.23" y1="410.50" y2="528.40" stroke="#e4e4e4" stroke-width="0.75"/>
<line x1="132.01" x2="132.01" y1="410.50" y2="528.40" stroke="#e4e4e4" stroke-width="0.75"/>
<line x1="139.79" x2="139.79" y1="410.50" y2="528.40" stroke="#e4e4e4" stroke-width="0.75"/>
<line x1="147.57" x2="147.57" y1="410.50" y2="528.40" stroke="#e4e4e4" stroke-width="0.75"/>
<line x1="155.34" x2="155.34" y1="410.50" y2="528.40" stroke="#e4e4e4" stroke-width="0.75"/>
<line x1="163.12" x2="163.12" y1="410.50" y2="528.40" stroke="#e4e4e4" stroke-width="0.75"/>
<line x1="170.90" x2="170.90" y1="410.50" y2="528.40" stroke="#e4e4e4" stroke-width="0.75"/>
<line x1="178.68" x2="178.68" y1="410.50" y2="528.40" stroke="#e4e4e4" stroke-width="0.75"/>
<line x1="186.46" x2="186.46" y1="410.50" y2="528.40" stroke="#e4e4e4" stroke-width="0.75"/>
<line x1="194.23" x2="194.23" y1="410.50" y2="528.40" stroke="#e4e4e4" stroke-width="0.75"/>
<line x1="202.01" x2="202.01" y1="410.50" y2="528.40" stroke="#e4e4e4" stroke-width="0.75"/>
<line x1="209.79" x2="209.79" y1="410.50" y2="528.40" stroke="#e4e4e4" stroke-width="0.75"/>
<line x1="217.57" x2="217.57" y1="410.50" y2="528.40" stroke="#e4e4e4" stroke-width="0.75"/>
<line x1="225.34" x2="225.34" y1="410.50" y2="528.40" stroke="#e4e4e4" stroke-width="0.75"/>
<line x1="233.12" x2="233.12" y1="410.50" y2="528.40" stroke="#e4e4e4" stroke-width="0.75"/>
<line x1="240.90" x2="240.90" y1="410.50" y2="528.40" stroke="#e4e4e4" stroke-width="0.75"/>
<line x1="248.68" x2="248.68" y1="410.50" y2="528.40" stroke="#e4e4e4" stroke-width="0.75"/>
<line x1="256.46" x2="256.46" y1="410.50" y2="528.40" stroke="#e4e4e4" stroke-width="0.75"/>
<line x1="264.23" x2="264.23" y1="410.50" y2="528.40" stroke="#e4e4e4" stroke-width="0.75"/>
<line x1="272.01" x2="272.01" y1="410.50" y2="528.40" stroke="#e4e4e4" stroke-width="0.75"/>
<line x1="279.79" x2="279.79" y1="410.50" y2="528.40" stroke="#e4e4e4" stroke-width="0.75"/>
<line x1="287.57" x2="287.57" y1="410.50" y2="528.40" stroke="#e4e4e4" stroke-width="0.75"/>
<line x1="295.34" x2="295.34" y1="410.50" y2="528.40" stroke="#e4e4e4" stroke-width="0.75"/>
<line x1="303.12" x2="303.12" y1="410.50" y2="528.40" stroke="#e4e4e4" stroke-width="0.75"/>
<rect x="35.18" y="523.20" width="3.50" height="0.00" fill="#ff0000"/>
<rect x="38.68" y="521.58" width="3.50" height="1.62" fill="#0000ff"/>
<rect x="42.96" y="523.20" width="3.50" height="0.00" fill="#ff0000"/>
<rect x="46.46" y="512.99" width="3.50" height="10.21" fill="#0000ff"/>
<rect x="50.73" y="523.20" width="3.50" height="0.00" fill="#ff0000"/>
<rect x="54.23" y="523.02" width="3.50" height="0.18" fill="#0000ff"/>
<rect x="58.51" y="523.20" width="3.50" height="0.00" fill="#ff0000"/>
<rect x="62.01" y="520.28" width="3.50" height="2.92" fill="#0000ff"/>
<rect x="66.29" y="523.20" width="3.50" height="0.00" fill="#ff0000"/>
<rect x="69.79" y="500.87" width="3.50" height="22.33" fill="#0000ff"/>
<rect x="74.07" y="523.20" width="3.50" height="0.00" fill="#ff0000"/>
<rect x="77.57" y="521.75" width="3.50" height="1.45" fill="#0000ff"/>
<rect x="81.84" y="523.20" width="3.50" height="0.00" fill="#ff0000"/>
<rect x="85.34" y="518.92" width="3.50" height="4.28" fill="#0000ff"/>
<rect x="89.62" y="523.20" width="3.50" height="0.00" fill="#ff0000"/>
<rect x="93.12" y="521.41" width="3.50" height="1.79" fill="#0000ff"/>
<rect x="97.40" y="523.20" width="3.50" height="0.00" fill="#ff0000"/>
<rect x="100.90" y="506.93" width="3.50" height="16.27" fill="#0000ff"/>
<rect x="105.18" y="523.20" width="3.50" height="0.00" fill="#ff0000"/>
<rect x="108.68" y="522.49" width="3.50" height="0.71" fill="#0000ff"/>
<rect x="112.96" y="521.60" width="3.50" height="1.60" fill="#ff0000"/>
<rect x="116.46" y="512.52" width="3.50" height="10.68" fill="#0000ff"/>
<rect x="120.73" y="522.88" width="3.50" height="0.32" fill="#ff0000"/>
<rect x="124.23" y="508.82" width="3.50" height="14.38" fill="#0000ff"/>
<rect x="128.51" y="523.20" width="3.50" height="0.00" fill="#ff0000"/>
<rect x="132.01" y="517.89" width="3.50" height="5.31" fill="#0000ff"/>
<rect x="136.29" y="523.20" width="3.50" height="0.00" fill="#ff0000"/>
<rect x="139.79" y="509.99" width="3.50" height="13.21" fill="#0000ff"/>
<rect x="144.07" y="522.88" width="3.50" height="0.32" fill="#ff0000"/>
<rect x="147.57" y="522.74" width="3.50" height="0.46" fill="#0000ff"/>
<rect x="151.84" y="519.68" width="3.50" height="3.52" fill="#ff0000"/>
<rect x="155.34" y="507.40" width="3.50" height="15.80" fill="#0000ff"/>
<rect x="159.62" y="523.04" width="3.50" height="0.16" fill="#ff0000"/>
<rect x="163.12" y="516.12" width="3.50" height="7.08" fill="#0000ff"/>
<rect x="167.40" y="523.20" width="3.50" height="0.00" fill="#ff0000"/>
<rect x="170.90" y="523.09" width="3.50" height="0.11" fill="#0000ff"/>
<rect x="175.18" y="522.72" width="3.50" height="0.48" fill="#ff0000"/>
<rect x="178.68" y="517.90" width="3.50" height="5.30" fill="#0000ff"/>
<rect x="182.96" y="521.46" width="3.50" height="1.74" fill="#ff0000"/>
<rect x="186.46" y="509.49" width="3.50" height="13.71" fill="#0000ff"/>
<rect x="190.73" y="523.20" width="3.50" height="0.00" fill="#ff0000"/>
<rect x="194.23" y="522.40" width="3.50" height="0.80" fill="#0000ff"/>
<rect x="198.51" y="523.20" width="3.50" height="0.00" fill="#ff0000"/>
<rect x="202.01" y="523.16" width="3.50" height="0.04" fill="#0000ff"/>
<rect x="206.29" y="523.20" width="3.50" height="0.00" fill="#ff0000"/>
<rect x="209.79" y="520.21" width="3.50" height="2.99" fill="#0000ff"/>
<rect x="214.07" y="523.20" width="3.50" height="0.00" fill="#ff0000"/>
<rect x="217.57" y="522.95" width="3.50" height="0.25" fill="#0000ff"/>
<rect x="221.84" y="523.20" width="3.50" height="0.00" fill="#ff0000"/>
<rect x="225.34" y="511.91" width="3.50" height="11.29" fill="#0000ff"/>
<rect x="229.62" y="522.80" width="3.50" height="0.40" fill="#ff0000"/>
<rect x="233.12" y="520.53" width="3.50" height="2.67" fill="#0000ff"/>
<rect x="237.40" y="522.72" width="3.50" height="0.48" fill="#ff0000"/>
<rect x="240.90" y="505.57" width="3.50" height="17.63" fill="#0000ff"/>
<rect x="245.18" y="522.88" width="3.50" height="0.32" fill="#ff0000"/>
<rect x="248.68" y="501.64" width="3.50" height="21.56" fill="#0000ff"/>
<rect x="252.96" y="523.20" width="3.50" height="0.00" fill="#ff0000"/>
<rect x="256.46" y="522.78" width="3.50" height="0.42" fill="#0000ff"/>
<rect x="260.73" y="522.96" width="3.50" height="0.24" fill="#ff0000"/>
<rect x="264.23" y="512.92" width="3.50" height="10.28" fill="#0000ff"/>
<rect x="268.51" y="522.96" width="3.50" height="0.24" fill="#ff0000"/>
<rect x="272.01" y="508.86" width="3.50" height="14.34" fill="#0000ff"/>
<rect x="276.29" y="523.20" width="3.50" height="0.00" fill="#ff0000"/>
<rect x="279.79" y="523.11" width="3.50" height="0.09" fill="#0000ff"/>
<rect x="284.07" y="523.04" width="3.50" height="0.16" fill="#ff0000"/>
<rect x="287.57" y="491.53" width="3.50" height="31.67" fill="#0000ff"/>
<rect x="291.84" y="522.56" width="3.50" height="0.64" fill="#ff0000"/>
<rect x="295.34" y="519.47" width="3.50" height="3.73" fill="#0000ff"/>
<rect x="299.62" y="523.20" width="3.50" height="0.00" fill="#ff0000"/>
<rect x="303.12" y="415.70" width="3.50" height="107.50" fill="#0000ff"/>
<rect x="34.40" y="410.50" width="273.00" height="117.90" fill="none" stroke="#333333" stroke-width="0.38"/>
<line x1="32.10" x2="34.40" y1="523.20" y2="523.20" stroke="#333333" stroke-width="0.65"/>
<text transform="translate(30.80,525.45) rotate(0.05)" font-size="6.1" fill="#4d4d4d" text-anchor="end" class="tk">0</text>
<line x1="32.10" x2="34.40" y1="491.24" y2="491.24" stroke="#333333" stroke-width="0.65"/>
<text transform="translate(30.80,493.49) rotate(0.05)" font-size="6.1" fill="#4d4d4d" text-anchor="end" class="tk">20000</text>
<line x1="32.10" x2="34.40" y1="459.28" y2="459.28" stroke="#333333" stroke-width="0.65"/>
<text transform="translate(30.80,461.53) rotate(0.05)" font-size="6.1" fill="#4d4d4d" text-anchor="end" class="tk">40000</text>
<line x1="32.10" x2="34.40" y1="427.32" y2="427.32" stroke="#333333" stroke-width="0.65"/>
<text transform="translate(30.80,429.57) rotate(0.05)" font-size="6.1" fill="#4d4d4d" text-anchor="end" class="tk">60000</text>
<line x1="38.68" x2="38.68" y1="528.40" y2="530.80" stroke="#333333" stroke-width="0.7"/>
<text transform="translate(42.78,531.70) rotate(-90.05)" font-size="5.6" fill="#4d4d4d" text-anchor="end" class="xl">A&amp; N Island</text>
<line x1="46.46" x2="46.46" y1="528.40" y2="530.80" stroke="#333333" stroke-width="0.7"/>
<text transform="translate(50.56,531.70) rotate(-90.05)" font-size="5.6" fill="#4d4d4d" text-anchor="end" class="xl">Andhra Pradesh</text>
<line x1="54.23" x2="54.23" y1="528.40" y2="530.80" stroke="#333333" stroke-width="0.7"/>
<text transform="translate(58.33,531.70) rotate(-90.05)" font-size="5.6" fill="#4d4d4d" text-anchor="end" class="xl">Arunachal Pd.</text>
<line x1="62.01" x2="62.01" y1="528.40" y2="530.80" stroke="#333333" stroke-width="0.7"/>
<text transform="translate(66.11,531.70) rotate(-90.05)" font-size="5.6" fill="#4d4d4d" text-anchor="end" class="xl">Assam</text>
<line x1="69.79" x2="69.79" y1="528.40" y2="530.80" stroke="#333333" stroke-width="0.7"/>
<text transform="translate(73.89,531.70) rotate(-90.05)" font-size="5.6" fill="#4d4d4d" text-anchor="end" class="xl">Bihar</text>
<line x1="77.57" x2="77.57" y1="528.40" y2="530.80" stroke="#333333" stroke-width="0.7"/>
<text transform="translate(81.67,531.70) rotate(-90.05)" font-size="5.6" fill="#4d4d4d" text-anchor="end" class="xl">Chandigarh</text>
<line x1="85.34" x2="85.34" y1="528.40" y2="530.80" stroke="#333333" stroke-width="0.7"/>
<text transform="translate(89.44,531.70) rotate(-90.05)" font-size="5.6" fill="#4d4d4d" text-anchor="end" class="xl">Chhattisgarh</text>
<line x1="93.12" x2="93.12" y1="528.40" y2="530.80" stroke="#333333" stroke-width="0.7"/>
<text transform="translate(97.22,531.70) rotate(-90.05)" font-size="5.6" fill="#4d4d4d" text-anchor="end" class="xl">D&amp;N Haveli</text>
<line x1="100.90" x2="100.90" y1="528.40" y2="530.80" stroke="#333333" stroke-width="0.7"/>
<text transform="translate(105.00,531.70) rotate(-90.05)" font-size="5.6" fill="#4d4d4d" text-anchor="end" class="xl">Delhi</text>
<line x1="108.68" x2="108.68" y1="528.40" y2="530.80" stroke="#333333" stroke-width="0.7"/>
<text transform="translate(112.78,531.70) rotate(-90.05)" font-size="5.6" fill="#4d4d4d" text-anchor="end" class="xl">Goa</text>
<line x1="116.46" x2="116.46" y1="528.40" y2="530.80" stroke="#333333" stroke-width="0.7"/>
<text transform="translate(120.56,531.70) rotate(-90.05)" font-size="5.6" fill="#4d4d4d" text-anchor="end" class="xl">Gujarat</text>
<line x1="124.23" x2="124.23" y1="528.40" y2="530.80" stroke="#333333" stroke-width="0.7"/>
<text transform="translate(128.33,531.70) rotate(-90.05)" font-size="5.6" fill="#4d4d4d" text-anchor="end" class="xl">Haryana</text>
<line x1="132.01" x2="132.01" y1="528.40" y2="530.80" stroke="#333333" stroke-width="0.7"/>
<text transform="translate(136.11,531.70) rotate(-90.05)" font-size="5.6" fill="#4d4d4d" text-anchor="end" class="xl">Himachal Pradesh</text>
<line x1="139.79" x2="139.79" y1="528.40" y2="530.80" stroke="#333333" stroke-width="0.7"/>
<text transform="translate(143.89,531.70) rotate(-90.05)" font-size="5.6" fill="#4d4d4d" text-anchor="end" class="xl">J&amp;K</text>
<line x1="147.57" x2="147.57" y1="528.40" y2="530.80" stroke="#333333" stroke-width="0.7"/>
<text transform="translate(151.67,531.70) rotate(-90.05)" font-size="5.6" fill="#4d4d4d" text-anchor="end" class="xl">Jharkhand</text>
<line x1="155.34" x2="155.34" y1="528.40" y2="530.80" stroke="#333333" stroke-width="0.7"/>
<text transform="translate(159.44,531.70) rotate(-90.05)" font-size="5.6" fill="#4d4d4d" text-anchor="end" class="xl">Karnataka</text>
<line x1="163.12" x2="163.12" y1="528.40" y2="530.80" stroke="#333333" stroke-width="0.7"/>
<text transform="translate(167.22,531.70) rotate(-90.05)" font-size="5.6" fill="#4d4d4d" text-anchor="end" class="xl">Kerala</text>
<line x1="170.90" x2="170.90" y1="528.40" y2="530.80" stroke="#333333" stroke-width="0.7"/>
<text transform="translate(175.00,531.70) rotate(-90.05)" font-size="5.6" fill="#4d4d4d" text-anchor="end" class="xl">Lakshadweep</text>
<line x1="178.68" x2="178.68" y1="528.40" y2="530.80" stroke="#333333" stroke-width="0.7"/>
<text transform="translate(182.78,531.70) rotate(-90.05)" font-size="5.6" fill="#4d4d4d" text-anchor="end" class="xl">Madhya Pd.</text>
<line x1="186.46" x2="186.46" y1="528.40" y2="530.80" stroke="#333333" stroke-width="0.7"/>
<text transform="translate(190.56,531.70) rotate(-90.05)" font-size="5.6" fill="#4d4d4d" text-anchor="end" class="xl">Maharashtra</text>
<line x1="194.23" x2="194.23" y1="528.40" y2="530.80" stroke="#333333" stroke-width="0.7"/>
<text transform="translate(198.33,531.70) rotate(-90.05)" font-size="5.6" fill="#4d4d4d" text-anchor="end" class="xl">Manipur</text>
<line x1="202.01" x2="202.01" y1="528.40" y2="530.80" stroke="#333333" stroke-width="0.7"/>
<text transform="translate(206.11,531.70) rotate(-90.05)" font-size="5.6" fill="#4d4d4d" text-anchor="end" class="xl">Meghalaya</text>
<line x1="209.79" x2="209.79" y1="528.40" y2="530.80" stroke="#333333" stroke-width="0.7"/>
<text transform="translate(213.89,531.70) rotate(-90.05)" font-size="5.6" fill="#4d4d4d" text-anchor="end" class="xl">Mizoram</text>
<line x1="217.57" x2="217.57" y1="528.40" y2="530.80" stroke="#333333" stroke-width="0.7"/>
<text transform="translate(221.67,531.70) rotate(-90.05)" font-size="5.6" fill="#4d4d4d" text-anchor="end" class="xl">Nagaland</text>
<line x1="225.34" x2="225.34" y1="528.40" y2="530.80" stroke="#333333" stroke-width="0.7"/>
<text transform="translate(229.44,531.70) rotate(-90.05)" font-size="5.6" fill="#4d4d4d" text-anchor="end" class="xl">Odisha</text>
<line x1="233.12" x2="233.12" y1="528.40" y2="530.80" stroke="#333333" stroke-width="0.7"/>
<text transform="translate(237.22,531.70) rotate(-90.05)" font-size="5.6" fill="#4d4d4d" text-anchor="end" class="xl">Puducherry</text>
<line x1="240.90" x2="240.90" y1="528.40" y2="530.80" stroke="#333333" stroke-width="0.7"/>
<text transform="translate(245.00,531.70) rotate(-90.05)" font-size="5.6" fill="#4d4d4d" text-anchor="end" class="xl">Punjab</text>
<line x1="248.68" x2="248.68" y1="528.40" y2="530.80" stroke="#333333" stroke-width="0.7"/>
<text transform="translate(252.78,531.70) rotate(-90.05)" font-size="5.6" fill="#4d4d4d" text-anchor="end" class="xl">Rajasthan</text>
<line x1="256.46" x2="256.46" y1="528.40" y2="530.80" stroke="#333333" stroke-width="0.7"/>
<text transform="translate(260.56,531.70) rotate(-90.05)" font-size="5.6" fill="#4d4d4d" text-anchor="end" class="xl">Sikkim</text>
<line x1="264.23" x2="264.23" y1="528.40" y2="530.80" stroke="#333333" stroke-width="0.7"/>
<text transform="translate(268.33,531.70) rotate(-90.05)" font-size="5.6" fill="#4d4d4d" text-anchor="end" class="xl">Tamil Nadu</text>
<line x1="272.01" x2="272.01" y1="528.40" y2="530.80" stroke="#333333" stroke-width="0.7"/>
<text transform="translate(276.11,531.70) rotate(-90.05)" font-size="5.6" fill="#4d4d4d" text-anchor="end" class="xl">Telangana</text>
<line x1="279.79" x2="279.79" y1="528.40" y2="530.80" stroke="#333333" stroke-width="0.7"/>
<text transform="translate(283.89,531.70) rotate(-90.05)" font-size="5.6" fill="#4d4d4d" text-anchor="end" class="xl">Tripura</text>
<line x1="287.57" x2="287.57" y1="528.40" y2="530.80" stroke="#333333" stroke-width="0.7"/>
<text transform="translate(291.67,531.70) rotate(-90.05)" font-size="5.6" fill="#4d4d4d" text-anchor="end" class="xl">Uttar Pradesh</text>
<line x1="295.34" x2="295.34" y1="528.40" y2="530.80" stroke="#333333" stroke-width="0.7"/>
<text transform="translate(299.44,531.70) rotate(-90.05)" font-size="5.6" fill="#4d4d4d" text-anchor="end" class="xl">Uttarakhand</text>
<line x1="303.12" x2="303.12" y1="528.40" y2="530.80" stroke="#333333" stroke-width="0.7"/>
<text transform="translate(307.22,531.70) rotate(-90.05)" font-size="5.6" fill="#4d4d4d" text-anchor="end" class="xl">West Bengal</text>
<text transform="translate(33.70,404.90) rotate(0.05) scale(1.09,1)" font-size="11.3" fill="#000" font-weight="bold">2022</text>
<text transform="translate(170.90,584.60) rotate(0.05)" font-size="7.5" fill="#000" text-anchor="middle" class="ax">State/UT</text>
<text transform="translate(9.70,469.45) rotate(-90.05)" font-size="7.5" fill="#000" text-anchor="middle" class="ax">Number of Cases</text>
</g>
<g>
<rect x="345.50" y="410.50" width="273.10" height="117.90" fill="#ffffff"/>
<line x1="345.50" x2="618.60" y1="509.45" y2="509.45" stroke="#e4e4e4" stroke-width="0.45"/>
<line x1="345.50" x2="618.60" y1="481.94" y2="481.94" stroke="#e4e4e4" stroke-width="0.45"/>
<line x1="345.50" x2="618.60" y1="454.43" y2="454.43" stroke="#e4e4e4" stroke-width="0.45"/>
<line x1="345.50" x2="618.60" y1="426.92" y2="426.92" stroke="#e4e4e4" stroke-width="0.45"/>
<line x1="345.50" x2="618.60" y1="523.20" y2="523.20" stroke="#e4e4e4" stroke-width="0.75"/>
<line x1="345.50" x2="618.60" y1="495.69" y2="495.69" stroke="#e4e4e4" stroke-width="0.75"/>
<line x1="345.50" x2="618.60" y1="468.18" y2="468.18" stroke="#e4e4e4" stroke-width="0.75"/>
<line x1="345.50" x2="618.60" y1="440.68" y2="440.68" stroke="#e4e4e4" stroke-width="0.75"/>
<line x1="345.50" x2="618.60" y1="413.17" y2="413.17" stroke="#e4e4e4" stroke-width="0.75"/>
<line x1="349.78" x2="349.78" y1="410.50" y2="528.40" stroke="#e4e4e4" stroke-width="0.75"/>
<line x1="357.56" x2="357.56" y1="410.50" y2="528.40" stroke="#e4e4e4" stroke-width="0.75"/>
<line x1="365.34" x2="365.34" y1="410.50" y2="528.40" stroke="#e4e4e4" stroke-width="0.75"/>
<line x1="373.12" x2="373.12" y1="410.50" y2="528.40" stroke="#e4e4e4" stroke-width="0.75"/>
<line x1="380.90" x2="380.90" y1="410.50" y2="528.40" stroke="#e4e4e4" stroke-width="0.75"/>
<line x1="388.68" x2="388.68" y1="410.50" y2="528.40" stroke="#e4e4e4" stroke-width="0.75"/>
<line x1="396.46" x2="396.46" y1="410.50" y2="528.40" stroke="#e4e4e4" stroke-width="0.75"/>
<line x1="404.24" x2="404.24" y1="410.50" y2="528.40" stroke="#e4e4e4" stroke-width="0.75"/>
<line x1="412.02" x2="412.02" y1="410.50" y2="528.40" stroke="#e4e4e4" stroke-width="0.75"/>
<line x1="419.80" x2="419.80" y1="410.50" y2="528.40" stroke="#e4e4e4" stroke-width="0.75"/>
<line x1="427.59" x2="427.59" y1="410.50" y2="528.40" stroke="#e4e4e4" stroke-width="0.75"/>
<line x1="435.37" x2="435.37" y1="410.50" y2="528.40" stroke="#e4e4e4" stroke-width="0.75"/>
<line x1="443.15" x2="443.15" y1="410.50" y2="528.40" stroke="#e4e4e4" stroke-width="0.75"/>
<line x1="450.93" x2="450.93" y1="410.50" y2="528.40" stroke="#e4e4e4" stroke-width="0.75"/>
<line x1="458.71" x2="458.71" y1="410.50" y2="528.40" stroke="#e4e4e4" stroke-width="0.75"/>
<line x1="466.49" x2="466.49" y1="410.50" y2="528.40" stroke="#e4e4e4" stroke-width="0.75"/>
<line x1="474.27" x2="474.27" y1="410.50" y2="528.40" stroke="#e4e4e4" stroke-width="0.75"/>
<line x1="482.05" x2="482.05" y1="410.50" y2="528.40" stroke="#e4e4e4" stroke-width="0.75"/>
<line x1="489.83" x2="489.83" y1="410.50" y2="528.40" stroke="#e4e4e4" stroke-width="0.75"/>
<line x1="497.61" x2="497.61" y1="410.50" y2="528.40" stroke="#e4e4e4" stroke-width="0.75"/>
<line x1="505.39" x2="505.39" y1="410.50" y2="528.40" stroke="#e4e4e4" stroke-width="0.75"/>
<line x1="513.17" x2="513.17" y1="410.50" y2="528.40" stroke="#e4e4e4" stroke-width="0.75"/>
<line x1="520.95" x2="520.95" y1="410.50" y2="528.40" stroke="#e4e4e4" stroke-width="0.75"/>
<line x1="528.73" x2="528.73" y1="410.50" y2="528.40" stroke="#e4e4e4" stroke-width="0.75"/>
<line x1="536.51" x2="536.51" y1="410.50" y2="528.40" stroke="#e4e4e4" stroke-width="0.75"/>
<line x1="544.30" x2="544.30" y1="410.50" y2="528.40" stroke="#e4e4e4" stroke-width="0.75"/>
<line x1="552.08" x2="552.08" y1="410.50" y2="528.40" stroke="#e4e4e4" stroke-width="0.75"/>
<line x1="559.86" x2="559.86" y1="410.50" y2="528.40" stroke="#e4e4e4" stroke-width="0.75"/>
<line x1="567.64" x2="567.64" y1="410.50" y2="528.40" stroke="#e4e4e4" stroke-width="0.75"/>
<line x1="575.42" x2="575.42" y1="410.50" y2="528.40" stroke="#e4e4e4" stroke-width="0.75"/>
<line x1="583.20" x2="583.20" y1="410.50" y2="528.40" stroke="#e4e4e4" stroke-width="0.75"/>
<line x1="590.98" x2="590.98" y1="410.50" y2="528.40" stroke="#e4e4e4" stroke-width="0.75"/>
<line x1="598.76" x2="598.76" y1="410.50" y2="528.40" stroke="#e4e4e4" stroke-width="0.75"/>
<line x1="606.54" x2="606.54" y1="410.50" y2="528.40" stroke="#e4e4e4" stroke-width="0.75"/>
<line x1="614.32" x2="614.32" y1="410.50" y2="528.40" stroke="#e4e4e4" stroke-width="0.75"/>
<rect x="346.28" y="523.20" width="3.50" height="0.00" fill="#ff0000"/>
<rect x="349.78" y="517.29" width="3.50" height="5.91" fill="#0000ff"/>
<rect x="354.06" y="523.20" width="3.50" height="0.00" fill="#ff0000"/>
<rect x="357.56" y="480.12" width="3.50" height="43.08" fill="#0000ff"/>
<rect x="361.84" y="523.20" width="3.50" height="0.00" fill="#ff0000"/>
<rect x="365.34" y="522.98" width="3.50" height="0.22" fill="#0000ff"/>
<rect x="369.62" y="523.20" width="3.50" height="0.00" fill="#ff0000"/>
<rect x="373.12" y="461.75" width="3.50" height="61.45" fill="#0000ff"/>
<rect x="377.40" y="523.20" width="3.50" height="0.00" fill="#ff0000"/>
<rect x="380.90" y="495.96" width="3.50" height="27.24" fill="#0000ff"/>
<rect x="385.18" y="523.20" width="3.50" height="0.00" fill="#ff0000"/>
<rect x="388.68" y="521.93" width="3.50" height="1.27" fill="#0000ff"/>
<rect x="392.96" y="523.20" width="3.50" height="0.00" fill="#ff0000"/>
<rect x="396.46" y="515.17" width="3.50" height="8.03" fill="#0000ff"/>
<rect x="400.74" y="523.20" width="3.50" height="0.00" fill="#ff0000"/>
<rect x="404.24" y="517.92" width="3.50" height="5.28" fill="#0000ff"/>
<rect x="408.52" y="522.54" width="3.50" height="0.66" fill="#ff0000"/>
<rect x="412.02" y="465.97" width="3.50" height="57.23" fill="#0000ff"/>
<rect x="416.30" y="523.20" width="3.50" height="0.00" fill="#ff0000"/>
<rect x="419.80" y="520.45" width="3.50" height="2.75" fill="#0000ff"/>
<rect x="424.08" y="520.89" width="3.50" height="2.31" fill="#ff0000"/>
<rect x="427.59" y="486.67" width="3.50" height="36.53" fill="#0000ff"/>
<rect x="431.86" y="521.99" width="3.50" height="1.21" fill="#ff0000"/>
<rect x="435.37" y="491.31" width="3.50" height="31.89" fill="#0000ff"/>
<rect x="439.65" y="523.20" width="3.50" height="0.00" fill="#ff0000"/>
<rect x="443.15" y="517.07" width="3.50" height="6.13" fill="#0000ff"/>
<rect x="447.43" y="523.20" width="3.50" height="0.00" fill="#ff0000"/>
<rect x="450.93" y="510.33" width="3.50" height="12.87" fill="#0000ff"/>
<rect x="455.21" y="521.11" width="3.50" height="2.09" fill="#ff0000"/>
<rect x="458.71" y="513.08" width="3.50" height="10.12" fill="#0000ff"/>
<rect x="462.99" y="512.86" width="3.50" height="10.34" fill="#ff0000"/>
<rect x="466.49" y="422.04" width="3.50" height="101.16" fill="#0000ff"/>
<rect x="470.77" y="522.87" width="3.50" height="0.33" fill="#ff0000"/>
<rect x="474.27" y="415.70" width="3.50" height="107.50" fill="#0000ff"/>
<rect x="478.55" y="523.20" width="3.50" height="0.00" fill="#ff0000"/>
<rect x="482.05" y="520.23" width="3.50" height="2.97" fill="#0000ff"/>
<rect x="486.33" y="521.11" width="3.50" height="2.09" fill="#ff0000"/>
<rect x="489.83" y="506.52" width="3.50" height="16.68" fill="#0000ff"/>
<rect x="494.11" y="516.44" width="3.50" height="6.76" fill="#ff0000"/>
<rect x="497.61" y="429.64" width="3.50" height="93.56" fill="#0000ff"/>
<rect x="501.89" y="523.20" width="3.50" height="0.00" fill="#ff0000"/>
<rect x="505.39" y="517.92" width="3.50" height="5.28" fill="#0000ff"/>
<rect x="509.67" y="523.20" width="3.50" height="0.00" fill="#ff0000"/>
<rect x="513.17" y="522.65" width="3.50" height="0.55" fill="#0000ff"/>
<rect x="517.45" y="522.87" width="3.50" height="0.33" fill="#ff0000"/>
<rect x="520.95" y="514.54" width="3.50" height="8.66" fill="#0000ff"/>
<rect x="525.23" y="523.20" width="3.50" height="0.00" fill="#ff0000"/>
<rect x="528.73" y="519.18" width="3.50" height="4.02" fill="#0000ff"/>
<rect x="533.01" y="523.20" width="3.50" height="0.00" fill="#ff0000"/>
<rect x="536.51" y="450.98" width="3.50" height="72.22" fill="#0000ff"/>
<rect x="540.79" y="522.54" width="3.50" height="0.66" fill="#ff0000"/>
<rect x="544.30" y="509.90" width="3.50" height="13.30" fill="#0000ff"/>
<rect x="548.57" y="518.14" width="3.50" height="5.06" fill="#ff0000"/>
<rect x="552.08" y="476.52" width="3.50" height="46.68" fill="#0000ff"/>
<rect x="556.35" y="521.93" width="3.50" height="1.27" fill="#ff0000"/>
<rect x="559.86" y="467.03" width="3.50" height="56.17" fill="#0000ff"/>
<rect x="564.14" y="523.20" width="3.50" height="0.00" fill="#ff0000"/>
<rect x="567.64" y="521.73" width="3.50" height="1.47" fill="#0000ff"/>
<rect x="571.92" y="522.32" width="3.50" height="0.88" fill="#ff0000"/>
<rect x="575.42" y="477.79" width="3.50" height="45.41" fill="#0000ff"/>
<rect x="579.70" y="522.87" width="3.50" height="0.33" fill="#ff0000"/>
<rect x="583.20" y="466.60" width="3.50" height="56.60" fill="#0000ff"/>
<rect x="587.48" y="523.20" width="3.50" height="0.00" fill="#ff0000"/>
<rect x="590.98" y="515.17" width="3.50" height="8.03" fill="#0000ff"/>
<rect x="595.26" y="520.89" width="3.50" height="2.31" fill="#ff0000"/>
<rect x="598.76" y="460.05" width="3.50" height="63.15" fill="#0000ff"/>
<rect x="603.04" y="522.54" width="3.50" height="0.66" fill="#ff0000"/>
<rect x="606.54" y="505.88" width="3.50" height="17.32" fill="#0000ff"/>
<rect x="610.82" y="523.20" width="3.50" height="0.00" fill="#ff0000"/>
<rect x="614.32" y="523.20" width="3.50" height="0.00" fill="#0000ff"/>
<rect x="345.50" y="410.50" width="273.10" height="117.90" fill="none" stroke="#333333" stroke-width="0.38"/>
<line x1="343.20" x2="345.50" y1="523.20" y2="523.20" stroke="#333333" stroke-width="0.65"/>
<text transform="translate(341.90,525.45) rotate(0.05)" font-size="6.1" fill="#4d4d4d" text-anchor="end" class="tk">0</text>
<line x1="343.20" x2="345.50" y1="495.69" y2="495.69" stroke="#333333" stroke-width="0.65"/>
<text transform="translate(341.90,497.94) rotate(0.05)" font-size="6.1" fill="#4d4d4d" text-anchor="end" class="tk">2500</text>
<line x1="343.20" x2="345.50" y1="468.18" y2="468.18" stroke="#333333" stroke-width="0.65"/>
<text transform="translate(341.90,470.43) rotate(0.05)" font-size="6.1" fill="#4d4d4d" text-anchor="end" class="tk">5000</text>
<line x1="343.20" x2="345.50" y1="440.68" y2="440.68" stroke="#333333" stroke-width="0.65"/>
<text transform="translate(341.90,442.93) rotate(0.05)" font-size="6.1" fill="#4d4d4d" text-anchor="end" class="tk">7500</text>
<line x1="343.20" x2="345.50" y1="413.17" y2="413.17" stroke="#333333" stroke-width="0.65"/>
<text transform="translate(341.90,415.42) rotate(0.05)" font-size="6.1" fill="#4d4d4d" text-anchor="end" class="tk">10000</text>
<line x1="349.78" x2="349.78" y1="528.40" y2="530.80" stroke="#333333" stroke-width="0.7"/>
<text transform="translate(353.88,531.70) rotate(-90.05)" font-size="5.6" fill="#4d4d4d" text-anchor="end" class="xl">A&amp; N Island</text>
<line x1="357.56" x2="357.56" y1="528.40" y2="530.80" stroke="#333333" stroke-width="0.7"/>
<text transform="translate(361.66,531.70) rotate(-90.05)" font-size="5.6" fill="#4d4d4d" text-anchor="end" class="xl">Andhra Pradesh</text>
<line x1="365.34" x2="365.34" y1="528.40" y2="530.80" stroke="#333333" stroke-width="0.7"/>
<text transform="translate(369.44,531.70) rotate(-90.05)" font-size="5.6" fill="#4d4d4d" text-anchor="end" class="xl">Arunachal Pd.</text>
<line x1="373.12" x2="373.12" y1="528.40" y2="530.80" stroke="#333333" stroke-width="0.7"/>
<text transform="translate(377.22,531.70) rotate(-90.05)" font-size="5.6" fill="#4d4d4d" text-anchor="end" class="xl">Assam</text>
<line x1="380.90" x2="380.90" y1="528.40" y2="530.80" stroke="#333333" stroke-width="0.7"/>
<text transform="translate(385.00,531.70) rotate(-90.05)" font-size="5.6" fill="#4d4d4d" text-anchor="end" class="xl">Bihar</text>
<line x1="388.68" x2="388.68" y1="528.40" y2="530.80" stroke="#333333" stroke-width="0.7"/>
<text transform="translate(392.78,531.70) rotate(-90.05)" font-size="5.6" fill="#4d4d4d" text-anchor="end" class="xl">Chandigarh</text>
<line x1="396.46" x2="396.46" y1="528.40" y2="530.80" stroke="#333333" stroke-width="0.7"/>
<text transform="translate(400.56,531.70) rotate(-90.05)" font-size="5.6" fill="#4d4d4d" text-anchor="end" class="xl">Chhattisgarh</text>
<line x1="404.24" x2="404.24" y1="528.40" y2="530.80" stroke="#333333" stroke-width="0.7"/>
<text transform="translate(408.34,531.70) rotate(-90.05)" font-size="5.6" fill="#4d4d4d" text-anchor="end" class="xl">D&amp;N Haveli</text>
<line x1="412.02" x2="412.02" y1="528.40" y2="530.80" stroke="#333333" stroke-width="0.7"/>
<text transform="translate(416.12,531.70) rotate(-90.05)" font-size="5.6" fill="#4d4d4d" text-anchor="end" class="xl">Delhi</text>
<line x1="419.80" x2="419.80" y1="528.40" y2="530.80" stroke="#333333" stroke-width="0.7"/>
<text transform="translate(423.90,531.70) rotate(-90.05)" font-size="5.6" fill="#4d4d4d" text-anchor="end" class="xl">Goa</text>
<line x1="427.59" x2="427.59" y1="528.40" y2="530.80" stroke="#333333" stroke-width="0.7"/>
<text transform="translate(431.69,531.70) rotate(-90.05)" font-size="5.6" fill="#4d4d4d" text-anchor="end" class="xl">Gujarat</text>
<line x1="435.37" x2="435.37" y1="528.40" y2="530.80" stroke="#333333" stroke-width="0.7"/>
<text transform="translate(439.47,531.70) rotate(-90.05)" font-size="5.6" fill="#4d4d4d" text-anchor="end" class="xl">Haryana</text>
<line x1="443.15" x2="443.15" y1="528.40" y2="530.80" stroke="#333333" stroke-width="0.7"/>
<text transform="translate(447.25,531.70) rotate(-90.05)" font-size="5.6" fill="#4d4d4d" text-anchor="end" class="xl">Himachal Pradesh</text>
<line x1="450.93" x2="450.93" y1="528.40" y2="530.80" stroke="#333333" stroke-width="0.7"/>
<text transform="translate(455.03,531.70) rotate(-90.05)" font-size="5.6" fill="#4d4d4d" text-anchor="end" class="xl">J&amp;K</text>
<line x1="458.71" x2="458.71" y1="528.40" y2="530.80" stroke="#333333" stroke-width="0.7"/>
<text transform="translate(462.81,531.70) rotate(-90.05)" font-size="5.6" fill="#4d4d4d" text-anchor="end" class="xl">Jharkhand</text>
<line x1="466.49" x2="466.49" y1="528.40" y2="530.80" stroke="#333333" stroke-width="0.7"/>
<text transform="translate(470.59,531.70) rotate(-90.05)" font-size="5.6" fill="#4d4d4d" text-anchor="end" class="xl">Karnataka</text>
<line x1="474.27" x2="474.27" y1="528.40" y2="530.80" stroke="#333333" stroke-width="0.7"/>
<text transform="translate(478.37,531.70) rotate(-90.05)" font-size="5.6" fill="#4d4d4d" text-anchor="end" class="xl">Kerala</text>
<line x1="482.05" x2="482.05" y1="528.40" y2="530.80" stroke="#333333" stroke-width="0.7"/>
<text transform="translate(486.15,531.70) rotate(-90.05)" font-size="5.6" fill="#4d4d4d" text-anchor="end" class="xl">Lakshadweep</text>
<line x1="489.83" x2="489.83" y1="528.40" y2="530.80" stroke="#333333" stroke-width="0.7"/>
<text transform="translate(493.93,531.70) rotate(-90.05)" font-size="5.6" fill="#4d4d4d" text-anchor="end" class="xl">Madhya Pd.</text>
<line x1="497.61" x2="497.61" y1="528.40" y2="530.80" stroke="#333333" stroke-width="0.7"/>
<text transform="translate(501.71,531.70) rotate(-90.05)" font-size="5.6" fill="#4d4d4d" text-anchor="end" class="xl">Maharashtra</text>
<line x1="505.39" x2="505.39" y1="528.40" y2="530.80" stroke="#333333" stroke-width="0.7"/>
<text transform="translate(509.49,531.70) rotate(-90.05)" font-size="5.6" fill="#4d4d4d" text-anchor="end" class="xl">Manipur</text>
<line x1="513.17" x2="513.17" y1="528.40" y2="530.80" stroke="#333333" stroke-width="0.7"/>
<text transform="translate(517.27,531.70) rotate(-90.05)" font-size="5.6" fill="#4d4d4d" text-anchor="end" class="xl">Meghalaya</text>
<line x1="520.95" x2="520.95" y1="528.40" y2="530.80" stroke="#333333" stroke-width="0.7"/>
<text transform="translate(525.05,531.70) rotate(-90.05)" font-size="5.6" fill="#4d4d4d" text-anchor="end" class="xl">Mizoram</text>
<line x1="528.73" x2="528.73" y1="528.40" y2="530.80" stroke="#333333" stroke-width="0.7"/>
<text transform="translate(532.83,531.70) rotate(-90.05)" font-size="5.6" fill="#4d4d4d" text-anchor="end" class="xl">Nagaland</text>
<line x1="536.51" x2="536.51" y1="528.40" y2="530.80" stroke="#333333" stroke-width="0.7"/>
<text transform="translate(540.61,531.70) rotate(-90.05)" font-size="5.6" fill="#4d4d4d" text-anchor="end" class="xl">Odisha</text>
<line x1="544.30" x2="544.30" y1="528.40" y2="530.80" stroke="#333333" stroke-width="0.7"/>
<text transform="translate(548.40,531.70) rotate(-90.05)" font-size="5.6" fill="#4d4d4d" text-anchor="end" class="xl">Puducherry</text>
<line x1="552.08" x2="552.08" y1="528.40" y2="530.80" stroke="#333333" stroke-width="0.7"/>
<text transform="translate(556.18,531.70) rotate(-90.05)" font-size="5.6" fill="#4d4d4d" text-anchor="end" class="xl">Punjab</text>
<line x1="559.86" x2="559.86" y1="528.40" y2="530.80" stroke="#333333" stroke-width="0.7"/>
<text transform="translate(563.96,531.70) rotate(-90.05)" font-size="5.6" fill="#4d4d4d" text-anchor="end" class="xl">Rajasthan</text>
<line x1="567.64" x2="567.64" y1="528.40" y2="530.80" stroke="#333333" stroke-width="0.7"/>
<text transform="translate(571.74,531.70) rotate(-90.05)" font-size="5.6" fill="#4d4d4d" text-anchor="end" class="xl">Sikkim</text>
<line x1="575.42" x2="575.42" y1="528.40" y2="530.80" stroke="#333333" stroke-width="0.7"/>
<text transform="translate(579.52,531.70) rotate(-90.05)" font-size="5.6" fill="#4d4d4d" text-anchor="end" class="xl">Tamil Nadu</text>
<line x1="583.20" x2="583.20" y1="528.40" y2="530.80" stroke="#333333" stroke-width="0.7"/>
<text transform="translate(587.30,531.70) rotate(-90.05)" font-size="5.6" fill="#4d4d4d" text-anchor="end" class="xl">Telangana</text>
<line x1="590.98" x2="590.98" y1="528.40" y2="530.80" stroke="#333333" stroke-width="0.7"/>
<text transform="translate(595.08,531.70) rotate(-90.05)" font-size="5.6" fill="#4d4d4d" text-anchor="end" class="xl">Tripura</text>
<line x1="598.76" x2="598.76" y1="528.40" y2="530.80" stroke="#333333" stroke-width="0.7"/>
<text transform="translate(602.86,531.70) rotate(-90.05)" font-size="5.6" fill="#4d4d4d" text-anchor="end" class="xl">Uttar Pradesh</text>
<line x1="606.54" x2="606.54" y1="528.40" y2="530.80" stroke="#333333" stroke-width="0.7"/>
<text transform="translate(610.64,531.70) rotate(-90.05)" font-size="5.6" fill="#4d4d4d" text-anchor="end" class="xl">Uttarakhand</text>
<line x1="614.32" x2="614.32" y1="528.40" y2="530.80" stroke="#333333" stroke-width="0.7"/>
<text transform="translate(618.42,531.70) rotate(-90.05)" font-size="5.6" fill="#4d4d4d" text-anchor="end" class="xl">West Bengal</text>
<text transform="translate(345.20,404.40) rotate(0.05) scale(1.06,1)" font-size="9.2" fill="#000" font-weight="bold">2023</text>
<text transform="translate(482.05,584.60) rotate(0.05)" font-size="7.5" fill="#000" text-anchor="middle" class="ax">State/UT</text>
<text transform="translate(320.80,469.45) rotate(-90.05)" font-size="7.5" fill="#000" text-anchor="middle" class="ax">Number of Cases</text>
</g>
<g><text transform="translate(630.60,261.90) rotate(0.05)" font-size="7.5" fill="#000" class="ax">Disease</text>
<rect x="631.0" y="267.0" width="10.9" height="10.9" fill="#ff0000"/>
<rect x="631.0" y="279.2" width="10.9" height="10.9" fill="#0000ff"/>
<text transform="translate(646.20,275.00) rotate(0.05)" font-size="6.1" fill="#000" class="lg">Chikungunya</text>
<text transform="translate(646.20,286.80) rotate(0.05)" font-size="6.1" fill="#000" class="lg">Dengue</text></g>
</svg>
</body>
</html>
